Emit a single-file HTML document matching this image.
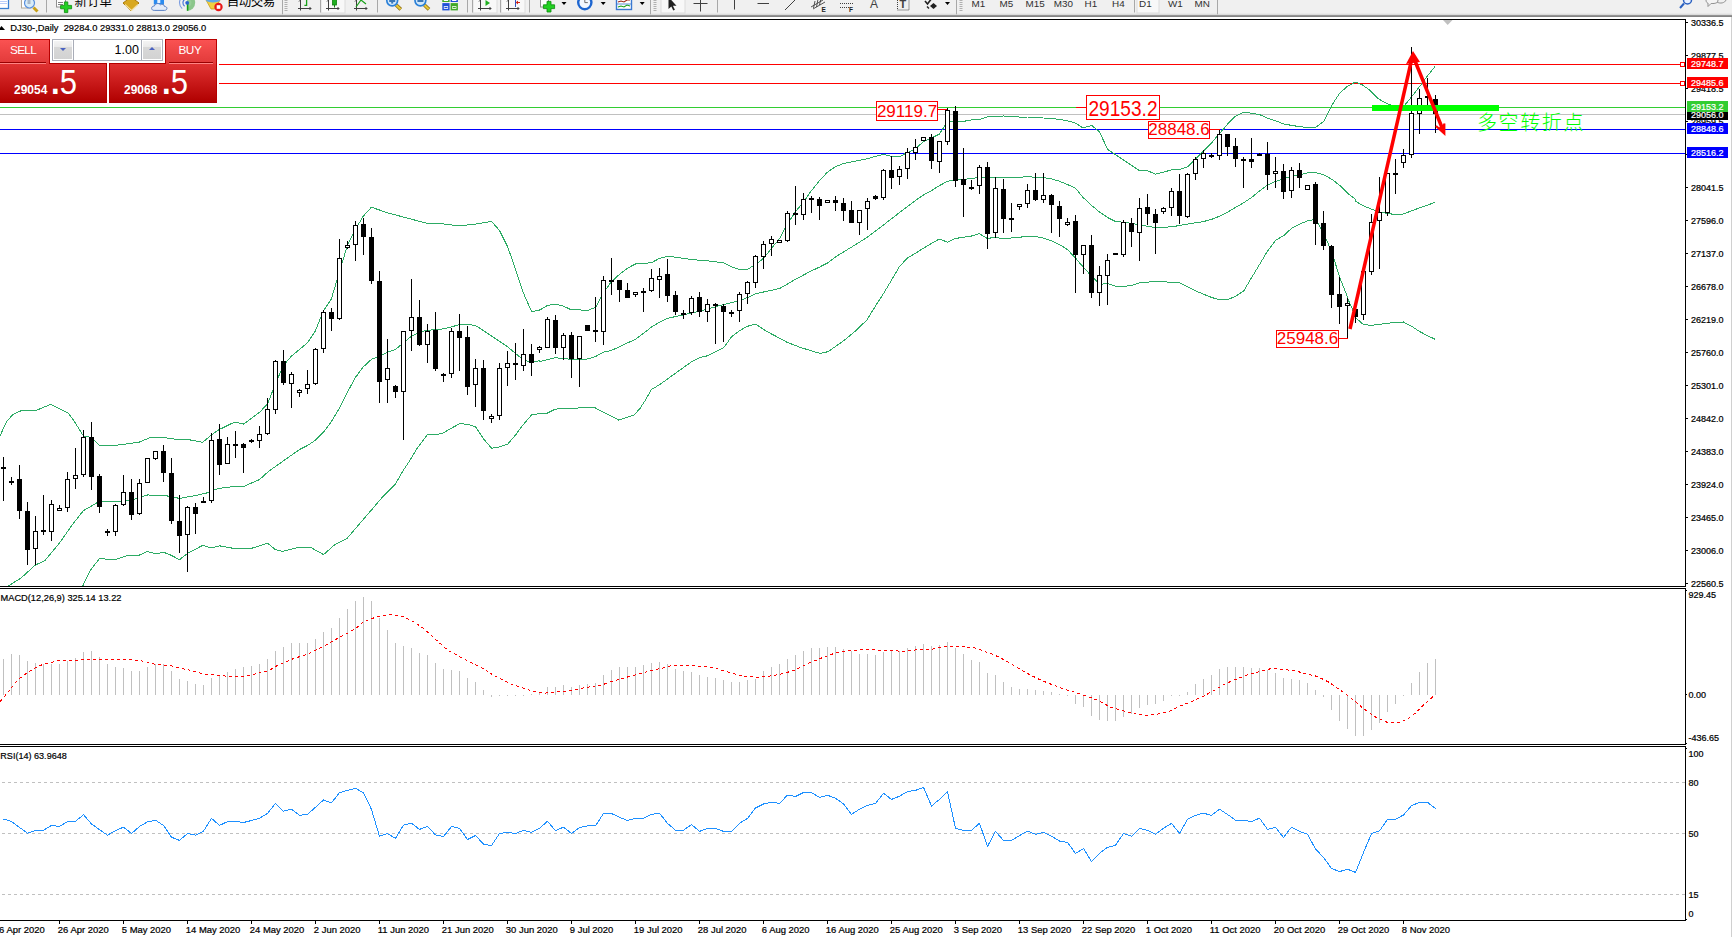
<!DOCTYPE html>
<html><head><meta charset="utf-8"><title>DJ30-,Daily</title>
<style>
html,body{margin:0;padding:0;background:#fff;}
body{width:1732px;height:937px;position:relative;overflow:hidden;font-family:"Liberation Sans","Noto Sans CJK SC",sans-serif;}
#tb{position:absolute;left:0;top:0;width:1732px;height:15px;background:#f0f0f0;}
#chart{position:absolute;left:0;top:0;}
.t{position:absolute;white-space:nowrap;line-height:1;color:#000;}
#trade{position:absolute;left:0;top:39px;width:219px;height:64px;background:#fff;}
</style></head><body>

<svg id="chart" width="1732" height="937" viewBox="0 0 1732 937" font-family="'Liberation Sans','Noto Sans CJK SC',sans-serif">
<g id="toolbar">
<defs><linearGradient id="tbg" x1="0" y1="0" x2="0" y2="1"><stop offset="0" stop-color="#f0f0f0"/><stop offset="0.45" stop-color="#d8d8d8"/><stop offset="0.5" stop-color="#9c9c9c"/><stop offset="1" stop-color="#7c7c7c"/></linearGradient></defs>
<rect x="0" y="0" width="1732" height="14" fill="#f0f0f0"/>
<rect x="0" y="13" width="1732" height="4" fill="url(#tbg)"/>
<rect x="321" y="-2" width="24" height="15" fill="#f8f8f8" stroke="#dcdcdc" stroke-width="1"/>
<rect x="473" y="-2" width="24" height="15" fill="#f8f8f8" stroke="#dcdcdc" stroke-width="1"/>
<rect x="501" y="-2" width="24" height="15" fill="#f8f8f8" stroke="#dcdcdc" stroke-width="1"/>
<rect x="661" y="-2" width="24" height="15" fill="#f8f8f8" stroke="#dcdcdc" stroke-width="1"/>
<rect x="1137" y="-2" width="22" height="15" fill="#f8f8f8" stroke="#dcdcdc" stroke-width="1"/>
<line x1="46.5" y1="0" x2="46.5" y2="12.5" stroke="#a8a8a8" stroke-width="1"/>
<line x1="282.5" y1="0" x2="282.5" y2="14.3" stroke="#a8a8a8" stroke-width="1"/>
<line x1="320.5" y1="0" x2="320.5" y2="12.5" stroke="#a8a8a8" stroke-width="1"/>
<line x1="377.5" y1="0" x2="377.5" y2="12.5" stroke="#a8a8a8" stroke-width="1"/>
<line x1="467.5" y1="0" x2="467.5" y2="12.5" stroke="#a8a8a8" stroke-width="1"/>
<line x1="472.5" y1="0" x2="472.5" y2="12.5" stroke="#a8a8a8" stroke-width="1"/>
<line x1="500.5" y1="0" x2="500.5" y2="12.5" stroke="#a8a8a8" stroke-width="1"/>
<line x1="529.5" y1="0" x2="529.5" y2="12.5" stroke="#a8a8a8" stroke-width="1"/>
<line x1="650.5" y1="0" x2="650.5" y2="14.3" stroke="#a8a8a8" stroke-width="1"/>
<line x1="717.5" y1="0" x2="717.5" y2="12.5" stroke="#a8a8a8" stroke-width="1"/>
<line x1="956.5" y1="0" x2="956.5" y2="14.3" stroke="#a8a8a8" stroke-width="1"/>
<line x1="1134.5" y1="0" x2="1134.5" y2="12.5" stroke="#a8a8a8" stroke-width="1"/>
<line x1="1217.5" y1="0" x2="1217.5" y2="14.3" stroke="#a8a8a8" stroke-width="1"/>
<line x1="286" y1="0" x2="286" y2="12" stroke="#b0b0b0" stroke-width="3" stroke-dasharray="1,1"/>
<line x1="655" y1="0" x2="655" y2="12" stroke="#b0b0b0" stroke-width="3" stroke-dasharray="1,1"/>
<line x1="961" y1="0" x2="961" y2="12" stroke="#b0b0b0" stroke-width="3" stroke-dasharray="1,1"/>
<rect x="-3" y="-3" width="11.5" height="11.5" fill="#fff" stroke="#3a80d2" stroke-width="1.3"/><line x1="0" y1="1.5" x2="7" y2="1.5" stroke="#b8ccf8" stroke-width="1"/><line x1="0" y1="3.5" x2="7" y2="3.5" stroke="#b8ccf8" stroke-width="1"/>
<rect x="21.5" y="-3" width="9" height="11" fill="#fff" stroke="#b0a898" stroke-width="1"/>
<line x1="33.5" y1="7.5" x2="37.5" y2="11.5" stroke="#c8a018" stroke-width="3"/>
<circle cx="29.5" cy="3" r="5" fill="#d8ecf8" stroke="#5a90dc" stroke-width="1.2"/><rect x="27.5" y="-1" width="3" height="5" fill="#a8b8c8"/>
<rect x="56.5" y="-2" width="9" height="9" fill="#fff" stroke="#909090" stroke-width="1"/><line x1="58" y1="2.5" x2="63" y2="2.5" stroke="#808080"/><line x1="58" y1="4.5" x2="63" y2="4.5" stroke="#808080"/>
<path d="M64.4 1.9h3.4v3.5h3.8v3.4h-3.8v3.8h-3.4v-3.8h-3.8v-3.4h3.8z" fill="#22d022" stroke="#0a8a0a" stroke-width="0.8"/>
<text x="74.5" y="5.5" font-size="12.5" fill="#000" font-family="'Noto Sans CJK SC',sans-serif">新订单</text>
<path d="M123 3l8-6 8 6-8 8z" fill="#d8a820" stroke="#a87808" stroke-width="1"/><path d="M125 4.5l6.5 6 6.5-6" fill="none" stroke="#f4e0a0" stroke-width="1.2"/>
<rect x="153.8" y="-3" width="10.2" height="7.5" fill="#2a8cf0"/><rect x="157.3" y="-3" width="3" height="6" fill="#e8f2ff"/>
<path d="M154.2 10.4c-3.6 0-3.4-4.4 0.2-4.4c0.6-2.6 4.2-3.4 6-1.2c1.6-1.2 4-0.4 4 1.6c3.4 0 3.4 4 0 4z" fill="#e4ecf8" stroke="#5a80c4" stroke-width="1"/>
<path d="M187.2 -5.2A8 8 0 0 1 187.2 10.8z" fill="#6ab86a" opacity="0.75"/><path d="M187.2 -1.5A4.3 4.3 0 0 1 187.2 7.1z" fill="#9ad09a" opacity="0.8"/>
<path d="M184.6 6.2a4.3 4.3 0 0 1 0-6.8" fill="none" stroke="#4a7ad8" stroke-width="1.2"/><path d="M182.2 8.6a7.6 7.6 0 0 1 0-11.6" fill="none" stroke="#7a9ce0" stroke-width="1.1"/>
<line x1="187.6" y1="3" x2="187.6" y2="10.8" stroke="#18a018" stroke-width="1.6"/><circle cx="187.2" cy="2.8" r="1.9" fill="#2a64d0"/>
<path d="M206 0h14l-5 9h-4z" fill="#f0d040" stroke="#c8a020" stroke-width="0.8"/><ellipse cx="213" cy="0" rx="7" ry="2.5" fill="#60a8e8"/>
<circle cx="218.5" cy="7" r="4.2" fill="#e81818"/><rect x="216.7" y="5.2" width="3.6" height="3.6" fill="#fff"/>
<text x="226.7" y="5.5" font-size="12.5" fill="#000" letter-spacing="-0.45" font-family="'Noto Sans CJK SC',sans-serif">自动交易</text>
<path d="M300.5 0v10.5M298 8.5h13M309.5 7l1.5 1.5-1.5 1.5M299 1.5l1.5-1.5" fill="none" stroke="#404040" stroke-width="1"/>
<path d="M306.6 -1v7M304.4 5.4h2.4" stroke="#18a018" stroke-width="1.3" fill="none"/>
<path d="M328.5 0v10.5M326 8.5h13M337.5 7l1.5 1.5-1.5 1.5M327 1.5l1.5-1.5" fill="none" stroke="#404040" stroke-width="1"/>
<rect x="332.5" y="-3" width="4" height="8" fill="#20b020" stroke="#108010" stroke-width="0.8"/><line x1="334.5" y1="5" x2="334.5" y2="7.5" stroke="#108010"/>
<path d="M356.5 0v10.5M354 8.5h13M365.5 7l1.5 1.5-1.5 1.5M355 1.5l1.5-1.5" fill="none" stroke="#404040" stroke-width="1"/>
<path d="M356 7l5-7 5 4" stroke="#18a018" stroke-width="1.2" fill="none"/>
<line x1="396.2" y1="5" x2="400.8" y2="9.4" stroke="#8a6a10" stroke-width="3.6"/><line x1="396.2" y1="5" x2="400.59999999999997" y2="9.2" stroke="#e8c838" stroke-width="2.2"/><circle cx="392.2" cy="0.5" r="5.4" fill="#d2e8fa" stroke="#2a80d8" stroke-width="1.7"/><line x1="389.2" y1="1" x2="395.2" y2="1" stroke="#3a78b8" stroke-width="2"/>
<line x1="392.2" y1="-2" x2="392.2" y2="3.6" stroke="#3a78b8" stroke-width="2"/>
<line x1="424.4" y1="5" x2="429.0" y2="9.4" stroke="#8a6a10" stroke-width="3.6"/><line x1="424.4" y1="5" x2="428.79999999999995" y2="9.2" stroke="#e8c838" stroke-width="2.2"/><circle cx="420.4" cy="0.5" r="5.4" fill="#d2e8fa" stroke="#2a80d8" stroke-width="1.7"/><line x1="417.4" y1="1" x2="423.4" y2="1" stroke="#3a78b8" stroke-width="2"/>
<rect x="442.3" y="-4" width="7.3" height="6" fill="#40a828"/><rect x="450.6" y="-4" width="7.3" height="6" fill="#2050d8"/><rect x="442.3" y="3.1" width="7.3" height="7.3" fill="#2050d8"/><rect x="450.6" y="3.1" width="7.3" height="7.3" fill="#40a828"/>
<rect x="443.8" y="6.2" width="4.3" height="2.6" fill="#fff"/><rect x="452.1" y="6.2" width="4.3" height="2.6" fill="#fff"/><rect x="444.4" y="7" width="3.1" height="1" fill="#2050d8"/><rect x="452.7" y="7" width="3.1" height="1" fill="#40a828"/><rect x="443.8" y="-1" width="4.3" height="2" fill="#fff"/><rect x="452.1" y="-1" width="4.3" height="2" fill="#fff"/>
<path d="M480.5 0v10.5M478 8.5h13M489.5 7l1.5 1.5-1.5 1.5M479 1.5l1.5-1.5" fill="none" stroke="#404040" stroke-width="1"/>
<path d="M485.5 0l4.5 3-4.5 3z" fill="#20b020"/>
<path d="M508.5 0v10.5M506 8.5h13M517.5 7l1.5 1.5-1.5 1.5M507 1.5l1.5-1.5" fill="none" stroke="#404040" stroke-width="1"/>
<path d="M515.5 0v7" stroke="#3050c0" stroke-width="1"/><path d="M520 2.5h-3.5M518 1l-1.8 1.5 1.8 1.5" stroke="#d02010" stroke-width="1" fill="none"/>
<rect x="540.5" y="-2" width="8" height="9" fill="#fff" stroke="#909090" stroke-width="1"/>
<path d="M547 1.4h4v3.4h3.6v3.8h-3.6v3.4h-4v-3.4h-3.6v-3.8h3.6z" fill="#22d022" stroke="#0a8a0a" stroke-width="0.8"/>
<path d="M561.5 2h5l-2.5 3z" fill="#000"/>
<path d="M600.7 2h5l-2.5 3z" fill="#000"/>
<path d="M639.7 2h5l-2.5 3z" fill="#000"/>
<path d="M945 2h5l-2.5 3z" fill="#000"/>
<circle cx="584.8" cy="2.6" r="6.6" fill="#f4f8ff" stroke="#1e66d0" stroke-width="2.4"/><path d="M584.8 -2v4.6h3" stroke="#707070" stroke-width="1" fill="none"/>
<rect x="616.5" y="-3" width="15" height="12.5" fill="#fff" stroke="#3a78d0" stroke-width="1.4"/><path d="M618 2l3-1 3 1 3-2 3 0" stroke="#a02818" stroke-width="1.1" fill="none"/><path d="M618 7l3-1 3 1 3-2 3 1" stroke="#18a018" stroke-width="1.1" fill="none"/><line x1="617" y1="4" x2="631" y2="4" stroke="#3a78d0" stroke-width="0.8"/>
<path d="M668.5 -3v12l2.8-2.5 2 4 1.6-0.8-2-4h3.6z" fill="#202020"/>
<path d="M693.5 3.5h14M700.5 0v11.5" stroke="#404040" stroke-width="1" fill="none"/>
<path d="M734.5 0v9.5" stroke="#404040" stroke-width="1"/>
<path d="M757.5 3.5h11.5" stroke="#404040" stroke-width="1"/>
<path d="M785 10L796 -1" stroke="#404040" stroke-width="1"/>
<path d="M811 7l12-7M813 9l12-7M815 1l-1.5 7M818 -1l-1.5 8M821 -2l-1.5 7" stroke="#404040" stroke-width="0.9" fill="none"/>
<text x="821.5" y="12" font-size="6.5" font-weight="bold" fill="#202020">E</text>
<path d="M840 3.5h13M840 7.5h10" stroke="#404040" stroke-width="1" stroke-dasharray="1,1"/>
<text x="849" y="12" font-size="6.5" font-weight="bold" fill="#202020">F</text>
<text x="870" y="7.5" font-size="12" fill="#404040">A</text>
<rect x="897.5" y="-2" width="11.5" height="12" fill="none" stroke="#404040" stroke-width="1" stroke-dasharray="1,1"/><text x="899.5" y="8" font-size="11" font-weight="bold" fill="#404040">T</text>
<path d="M925 1l2.5 3 4.5-6" stroke="#202020" stroke-width="1.6" fill="none"/><path d="M930 6l3.5-3 3.5 3-3.5 3z" fill="#202020"/><path d="M927 6.5l2 2" stroke="#202020" stroke-width="1.4"/>
<text x="971.5" y="6.5" font-size="9.9" fill="#303030">M1</text>
<text x="999.5" y="6.5" font-size="9.9" fill="#303030">M5</text>
<text x="1025.5" y="6.5" font-size="9.9" fill="#303030">M15</text>
<text x="1053.8" y="6.5" font-size="9.9" fill="#303030">M30</text>
<text x="1084.5" y="6.5" font-size="9.9" fill="#303030">H1</text>
<text x="1112" y="6.5" font-size="9.9" fill="#303030">H4</text>
<text x="1139" y="6.5" font-size="9.9" fill="#303030">D1</text>
<text x="1168" y="6.5" font-size="9.9" fill="#303030">W1</text>
<text x="1194.5" y="6.5" font-size="9.9" fill="#303030">MN</text>
<line x1="1680" y1="8" x2="1684" y2="3.5" stroke="#2a60c0" stroke-width="2"/><circle cx="1687.5" cy="0" r="4" fill="#e8f0ff" stroke="#2a60c0" stroke-width="1.5"/>
<path d="M1706 0c0-4 12-4 12 0s-5 3.5-7 3.5l-3 3v-3.5c-1 0-2-1-2-3z" fill="#f4f4f4" stroke="#909090" stroke-width="1"/><path d="M1717 2c3 2 8 1 9-2l2-3" fill="none" stroke="#909090" stroke-width="1"/>
</g>
<g shape-rendering="crispEdges">
<rect x="0" y="19" width="1686" height="1" fill="#000"/>
<rect x="1685" y="19" width="1" height="902" fill="#000"/>
<rect x="0" y="586" width="1686" height="1" fill="#000"/>
<rect x="0" y="588" width="1686" height="1" fill="#000"/>
<rect x="0" y="744" width="1686" height="1" fill="#000"/>
<rect x="0" y="746" width="1686" height="1" fill="#000"/>
<rect x="0" y="920" width="1686" height="1" fill="#000"/>
<rect x="1685" y="587" width="1" height="1" fill="#fff"/><rect x="1685" y="745" width="1" height="1" fill="#fff"/>
<rect x="1686" y="590" width="1" height="1" fill="#000"/><rect x="1686" y="748" width="1" height="1" fill="#000"/><rect x="1686" y="743" width="1" height="1" fill="#000"/><rect x="1686" y="919" width="1" height="1" fill="#000"/>
<rect x="1731" y="17" width="1" height="920" fill="#d0d0d0"/>
<rect x="0" y="64" width="1680" height="1" fill="#ff0000"/>
<rect x="0" y="83" width="1680" height="1" fill="#ff0000"/>
<rect x="0" y="107" width="1685" height="1" fill="#32cd32"/>
<rect x="0" y="114" width="1685" height="1" fill="#c0c0c0"/>
<rect x="0" y="129" width="1685" height="1" fill="#0000ff"/>
<rect x="0" y="153" width="1685" height="1" fill="#0000ff"/>
<line x1="2" y1="782.5" x2="1685" y2="782.5" stroke="#c0c0c0" stroke-width="1" stroke-dasharray="3,3"/>
<line x1="2" y1="833.5" x2="1685" y2="833.5" stroke="#c0c0c0" stroke-width="1" stroke-dasharray="3,3"/>
<line x1="2" y1="894.5" x2="1685" y2="894.5" stroke="#c0c0c0" stroke-width="1" stroke-dasharray="3,3"/>
<rect x="3" y="659" width="1" height="36" fill="#c0c0c0"/>
<rect x="11" y="654" width="1" height="41" fill="#c0c0c0"/>
<rect x="19" y="655" width="1" height="40" fill="#c0c0c0"/>
<rect x="27" y="661" width="1" height="34" fill="#c0c0c0"/>
<rect x="35" y="663" width="1" height="32" fill="#c0c0c0"/>
<rect x="43" y="664" width="1" height="31" fill="#c0c0c0"/>
<rect x="51" y="664" width="1" height="31" fill="#c0c0c0"/>
<rect x="59" y="664" width="1" height="31" fill="#c0c0c0"/>
<rect x="67" y="661" width="1" height="34" fill="#c0c0c0"/>
<rect x="75" y="658" width="1" height="37" fill="#c0c0c0"/>
<rect x="83" y="652" width="1" height="43" fill="#c0c0c0"/>
<rect x="91" y="651" width="1" height="44" fill="#c0c0c0"/>
<rect x="99" y="657" width="1" height="38" fill="#c0c0c0"/>
<rect x="107" y="664" width="1" height="31" fill="#c0c0c0"/>
<rect x="115" y="667" width="1" height="28" fill="#c0c0c0"/>
<rect x="123" y="668" width="1" height="27" fill="#c0c0c0"/>
<rect x="131" y="671" width="1" height="24" fill="#c0c0c0"/>
<rect x="139" y="671" width="1" height="24" fill="#c0c0c0"/>
<rect x="147" y="667" width="1" height="28" fill="#c0c0c0"/>
<rect x="155" y="664" width="1" height="31" fill="#c0c0c0"/>
<rect x="163" y="664" width="1" height="31" fill="#c0c0c0"/>
<rect x="171" y="671" width="1" height="24" fill="#c0c0c0"/>
<rect x="179" y="679" width="1" height="16" fill="#c0c0c0"/>
<rect x="187" y="681" width="1" height="14" fill="#c0c0c0"/>
<rect x="195" y="684" width="1" height="11" fill="#c0c0c0"/>
<rect x="203" y="685" width="1" height="10" fill="#c0c0c0"/>
<rect x="211" y="678" width="1" height="17" fill="#c0c0c0"/>
<rect x="219" y="675" width="1" height="20" fill="#c0c0c0"/>
<rect x="227" y="672" width="1" height="23" fill="#c0c0c0"/>
<rect x="235" y="669" width="1" height="26" fill="#c0c0c0"/>
<rect x="243" y="667" width="1" height="28" fill="#c0c0c0"/>
<rect x="251" y="666" width="1" height="29" fill="#c0c0c0"/>
<rect x="259" y="664" width="1" height="31" fill="#c0c0c0"/>
<rect x="267" y="659" width="1" height="36" fill="#c0c0c0"/>
<rect x="275" y="651" width="1" height="44" fill="#c0c0c0"/>
<rect x="283" y="647" width="1" height="48" fill="#c0c0c0"/>
<rect x="291" y="643" width="1" height="52" fill="#c0c0c0"/>
<rect x="299" y="643" width="1" height="52" fill="#c0c0c0"/>
<rect x="307" y="643" width="1" height="52" fill="#c0c0c0"/>
<rect x="315" y="639" width="1" height="56" fill="#c0c0c0"/>
<rect x="323" y="632" width="1" height="63" fill="#c0c0c0"/>
<rect x="331" y="628" width="1" height="67" fill="#c0c0c0"/>
<rect x="339" y="618" width="1" height="77" fill="#c0c0c0"/>
<rect x="347" y="609" width="1" height="86" fill="#c0c0c0"/>
<rect x="355" y="601" width="1" height="94" fill="#c0c0c0"/>
<rect x="363" y="597" width="1" height="98" fill="#c0c0c0"/>
<rect x="371" y="601" width="1" height="94" fill="#c0c0c0"/>
<rect x="379" y="618" width="1" height="77" fill="#c0c0c0"/>
<rect x="387" y="630" width="1" height="65" fill="#c0c0c0"/>
<rect x="395" y="643" width="1" height="52" fill="#c0c0c0"/>
<rect x="403" y="646" width="1" height="49" fill="#c0c0c0"/>
<rect x="411" y="648" width="1" height="47" fill="#c0c0c0"/>
<rect x="419" y="653" width="1" height="42" fill="#c0c0c0"/>
<rect x="427" y="655" width="1" height="40" fill="#c0c0c0"/>
<rect x="435" y="663" width="1" height="32" fill="#c0c0c0"/>
<rect x="443" y="669" width="1" height="26" fill="#c0c0c0"/>
<rect x="451" y="670" width="1" height="25" fill="#c0c0c0"/>
<rect x="459" y="671" width="1" height="24" fill="#c0c0c0"/>
<rect x="467" y="678" width="1" height="17" fill="#c0c0c0"/>
<rect x="475" y="682" width="1" height="13" fill="#c0c0c0"/>
<rect x="483" y="690" width="1" height="5" fill="#c0c0c0"/>
<rect x="491" y="695" width="1" height="2" fill="#c0c0c0"/>
<rect x="499" y="695" width="1" height="1" fill="#c0c0c0"/>
<rect x="507" y="695" width="1" height="1" fill="#c0c0c0"/>
<rect x="515" y="695" width="1" height="1" fill="#c0c0c0"/>
<rect x="523" y="695" width="1" height="1" fill="#c0c0c0"/>
<rect x="531" y="694" width="1" height="1" fill="#c0c0c0"/>
<rect x="539" y="693" width="1" height="2" fill="#c0c0c0"/>
<rect x="547" y="687" width="1" height="8" fill="#c0c0c0"/>
<rect x="555" y="687" width="1" height="8" fill="#c0c0c0"/>
<rect x="563" y="685" width="1" height="10" fill="#c0c0c0"/>
<rect x="571" y="687" width="1" height="8" fill="#c0c0c0"/>
<rect x="579" y="685" width="1" height="10" fill="#c0c0c0"/>
<rect x="587" y="684" width="1" height="11" fill="#c0c0c0"/>
<rect x="595" y="683" width="1" height="12" fill="#c0c0c0"/>
<rect x="603" y="675" width="1" height="20" fill="#c0c0c0"/>
<rect x="611" y="670" width="1" height="25" fill="#c0c0c0"/>
<rect x="619" y="667" width="1" height="28" fill="#c0c0c0"/>
<rect x="627" y="667" width="1" height="28" fill="#c0c0c0"/>
<rect x="635" y="667" width="1" height="28" fill="#c0c0c0"/>
<rect x="643" y="665" width="1" height="30" fill="#c0c0c0"/>
<rect x="651" y="663" width="1" height="32" fill="#c0c0c0"/>
<rect x="659" y="662" width="1" height="33" fill="#c0c0c0"/>
<rect x="667" y="664" width="1" height="31" fill="#c0c0c0"/>
<rect x="675" y="669" width="1" height="26" fill="#c0c0c0"/>
<rect x="683" y="671" width="1" height="24" fill="#c0c0c0"/>
<rect x="691" y="672" width="1" height="23" fill="#c0c0c0"/>
<rect x="699" y="675" width="1" height="20" fill="#c0c0c0"/>
<rect x="707" y="677" width="1" height="18" fill="#c0c0c0"/>
<rect x="715" y="678" width="1" height="17" fill="#c0c0c0"/>
<rect x="723" y="680" width="1" height="15" fill="#c0c0c0"/>
<rect x="731" y="682" width="1" height="13" fill="#c0c0c0"/>
<rect x="739" y="682" width="1" height="13" fill="#c0c0c0"/>
<rect x="747" y="680" width="1" height="15" fill="#c0c0c0"/>
<rect x="755" y="679" width="1" height="16" fill="#c0c0c0"/>
<rect x="763" y="671" width="1" height="24" fill="#c0c0c0"/>
<rect x="771" y="667" width="1" height="28" fill="#c0c0c0"/>
<rect x="779" y="664" width="1" height="31" fill="#c0c0c0"/>
<rect x="787" y="659" width="1" height="36" fill="#c0c0c0"/>
<rect x="795" y="655" width="1" height="40" fill="#c0c0c0"/>
<rect x="803" y="651" width="1" height="44" fill="#c0c0c0"/>
<rect x="811" y="648" width="1" height="47" fill="#c0c0c0"/>
<rect x="819" y="648" width="1" height="47" fill="#c0c0c0"/>
<rect x="827" y="647" width="1" height="48" fill="#c0c0c0"/>
<rect x="835" y="647" width="1" height="48" fill="#c0c0c0"/>
<rect x="843" y="649" width="1" height="46" fill="#c0c0c0"/>
<rect x="851" y="651" width="1" height="44" fill="#c0c0c0"/>
<rect x="859" y="654" width="1" height="41" fill="#c0c0c0"/>
<rect x="867" y="654" width="1" height="41" fill="#c0c0c0"/>
<rect x="875" y="655" width="1" height="40" fill="#c0c0c0"/>
<rect x="883" y="652" width="1" height="43" fill="#c0c0c0"/>
<rect x="891" y="651" width="1" height="44" fill="#c0c0c0"/>
<rect x="899" y="651" width="1" height="44" fill="#c0c0c0"/>
<rect x="907" y="648" width="1" height="47" fill="#c0c0c0"/>
<rect x="915" y="646" width="1" height="49" fill="#c0c0c0"/>
<rect x="923" y="644" width="1" height="51" fill="#c0c0c0"/>
<rect x="931" y="646" width="1" height="49" fill="#c0c0c0"/>
<rect x="939" y="645" width="1" height="50" fill="#c0c0c0"/>
<rect x="947" y="642" width="1" height="53" fill="#c0c0c0"/>
<rect x="955" y="648" width="1" height="47" fill="#c0c0c0"/>
<rect x="963" y="654" width="1" height="41" fill="#c0c0c0"/>
<rect x="971" y="660" width="1" height="35" fill="#c0c0c0"/>
<rect x="979" y="662" width="1" height="33" fill="#c0c0c0"/>
<rect x="987" y="673" width="1" height="22" fill="#c0c0c0"/>
<rect x="995" y="675" width="1" height="20" fill="#c0c0c0"/>
<rect x="1003" y="682" width="1" height="13" fill="#c0c0c0"/>
<rect x="1011" y="687" width="1" height="8" fill="#c0c0c0"/>
<rect x="1019" y="689" width="1" height="6" fill="#c0c0c0"/>
<rect x="1027" y="689" width="1" height="6" fill="#c0c0c0"/>
<rect x="1035" y="690" width="1" height="5" fill="#c0c0c0"/>
<rect x="1043" y="691" width="1" height="4" fill="#c0c0c0"/>
<rect x="1051" y="692" width="1" height="3" fill="#c0c0c0"/>
<rect x="1059" y="694" width="1" height="1" fill="#c0c0c0"/>
<rect x="1067" y="695" width="1" height="1" fill="#c0c0c0"/>
<rect x="1075" y="695" width="1" height="9" fill="#c0c0c0"/>
<rect x="1083" y="695" width="1" height="12" fill="#c0c0c0"/>
<rect x="1091" y="695" width="1" height="21" fill="#c0c0c0"/>
<rect x="1099" y="695" width="1" height="25" fill="#c0c0c0"/>
<rect x="1107" y="695" width="1" height="26" fill="#c0c0c0"/>
<rect x="1115" y="695" width="1" height="26" fill="#c0c0c0"/>
<rect x="1123" y="695" width="1" height="22" fill="#c0c0c0"/>
<rect x="1131" y="695" width="1" height="19" fill="#c0c0c0"/>
<rect x="1139" y="695" width="1" height="13" fill="#c0c0c0"/>
<rect x="1147" y="695" width="1" height="10" fill="#c0c0c0"/>
<rect x="1155" y="695" width="1" height="9" fill="#c0c0c0"/>
<rect x="1163" y="695" width="1" height="6" fill="#c0c0c0"/>
<rect x="1171" y="695" width="1" height="1" fill="#c0c0c0"/>
<rect x="1179" y="695" width="1" height="1" fill="#c0c0c0"/>
<rect x="1187" y="692" width="1" height="3" fill="#c0c0c0"/>
<rect x="1195" y="684" width="1" height="11" fill="#c0c0c0"/>
<rect x="1203" y="679" width="1" height="16" fill="#c0c0c0"/>
<rect x="1211" y="675" width="1" height="20" fill="#c0c0c0"/>
<rect x="1219" y="669" width="1" height="26" fill="#c0c0c0"/>
<rect x="1227" y="667" width="1" height="28" fill="#c0c0c0"/>
<rect x="1235" y="667" width="1" height="28" fill="#c0c0c0"/>
<rect x="1243" y="667" width="1" height="28" fill="#c0c0c0"/>
<rect x="1251" y="668" width="1" height="27" fill="#c0c0c0"/>
<rect x="1259" y="668" width="1" height="27" fill="#c0c0c0"/>
<rect x="1267" y="670" width="1" height="25" fill="#c0c0c0"/>
<rect x="1275" y="673" width="1" height="22" fill="#c0c0c0"/>
<rect x="1283" y="678" width="1" height="17" fill="#c0c0c0"/>
<rect x="1291" y="679" width="1" height="16" fill="#c0c0c0"/>
<rect x="1299" y="680" width="1" height="15" fill="#c0c0c0"/>
<rect x="1307" y="683" width="1" height="12" fill="#c0c0c0"/>
<rect x="1315" y="690" width="1" height="5" fill="#c0c0c0"/>
<rect x="1323" y="695" width="1" height="2" fill="#c0c0c0"/>
<rect x="1331" y="695" width="1" height="15" fill="#c0c0c0"/>
<rect x="1339" y="695" width="1" height="26" fill="#c0c0c0"/>
<rect x="1347" y="695" width="1" height="34" fill="#c0c0c0"/>
<rect x="1355" y="695" width="1" height="41" fill="#c0c0c0"/>
<rect x="1363" y="695" width="1" height="41" fill="#c0c0c0"/>
<rect x="1371" y="695" width="1" height="35" fill="#c0c0c0"/>
<rect x="1379" y="695" width="1" height="28" fill="#c0c0c0"/>
<rect x="1387" y="695" width="1" height="17" fill="#c0c0c0"/>
<rect x="1395" y="695" width="1" height="9" fill="#c0c0c0"/>
<rect x="1403" y="695" width="1" height="1" fill="#c0c0c0"/>
<rect x="1411" y="683" width="1" height="12" fill="#c0c0c0"/>
<rect x="1419" y="672" width="1" height="23" fill="#c0c0c0"/>
<rect x="1427" y="663" width="1" height="32" fill="#c0c0c0"/>
<rect x="1435" y="659" width="1" height="36" fill="#c0c0c0"/>
</g>
<g clip-path="url(#mainclip)" shape-rendering="crispEdges"><defs><clipPath id="mainclip"><rect x="0" y="20" width="1685" height="566"/></clipPath></defs>
<polyline points="0.0,435.9 6.4,422.0 12.8,414.5 21.3,410.7 36.3,410.3 50.8,404.3 68.3,413.0 74.7,422.0 83.4,435.9 91.5,437.4 99.4,445.5 117.4,445.1 138.7,442.3 149.4,438.0 162.2,437.4 175.0,439.1 187.8,439.5 202.7,442.3 211.5,434.8 219.4,429.5 234.7,422.0 243.5,424.1 259.5,412.4 267.6,403.9 275.3,384.2 283.3,365.5 291.4,356.2 307.4,342.8 315.4,330.8 323.4,310.8 331.4,298.8 339.4,272.1 347.4,245.4 355.4,229.4 363.4,216.0 371.4,207.2 387.5,212.8 411.5,219.2 427.5,223.5 443.5,224.0 459.5,225.9 475.6,224.0 491.6,221.4 499.6,230.7 507.6,246.7 515.6,269.4 523.6,293.4 531.6,311.6 539.6,310.0 540.0,309.9 547.4,305.5 555.5,304.2 563.6,306.2 571.4,309.9 579.5,309.9 587.6,310.4 595.5,307.4 603.6,292.7 611.4,281.7 619.5,274.3 627.4,268.2 635.5,264.0 643.6,263.3 651.4,262.8 659.5,258.3 667.4,256.4 675.5,257.1 691.4,259.6 707.4,260.8 723.6,262.8 731.4,266.9 739.5,269.4 747.4,269.4 755.5,264.5 763.6,258.3 771.4,248.5 779.5,238.7 787.4,224.0 795.5,211.7 803.6,201.9 810.0,192.6 819.3,180.8 827.4,172.2 835.5,166.6 843.4,163.6 851.5,161.9 859.6,160.4 867.4,158.7 875.5,156.3 883.4,154.3 891.5,156.3 899.3,156.7 907.4,152.6 915.5,148.9 923.4,141.5 931.5,137.9 939.3,134.2 947.4,121.9 955.5,121.4 963.4,121.4 971.5,119.9 979.3,119.4 987.4,117.0 995.5,116.3 1003.4,116.0 1011.5,116.5 1019.3,117.0 1027.4,117.0 1035.5,117.5 1043.4,118.0 1051.5,118.5 1059.6,119.4 1067.4,120.7 1075.5,123.1 1083.0,128.0 1091.6,125.4 1099.6,132.0 1107.6,149.4 1115.6,154.7 1123.6,160.1 1131.6,165.4 1139.6,170.7 1147.6,170.7 1155.6,174.2 1163.6,172.1 1171.6,169.9 1179.6,169.4 1187.7,166.7 1195.7,158.7 1203.7,150.7 1211.7,142.7 1219.7,133.4 1227.7,124.0 1235.7,116.0 1243.7,112.0 1251.7,113.3 1259.7,114.7 1267.7,118.2 1275.7,120.8 1283.8,124.0 1291.8,125.4 1299.8,126.7 1307.8,127.5 1315.8,127.2 1323.8,121.4 1331.8,105.3 1340.0,92.7 1348.1,85.8 1355.4,82.1 1362.6,85.0 1369.1,89.8 1377.2,97.9 1383.6,101.9 1388.5,104.4 1395.0,106.0 1404.7,105.2 1412.7,95.5 1420.8,85.0 1427.3,76.1 1435.1,66.4" fill="none" stroke="#2cab64" stroke-width="1" />
<polyline points="8.5,585.9 21.3,577.8 35.4,565.0 44.8,560.7 59.8,542.6 72.6,524.4 83.4,510.6 99.4,501.4 117.4,502.0 132.3,499.9 147.5,495.0 163.5,495.2 179.5,498.4 195.5,495.6 207.0,492.9 215.5,489.2 227.5,487.1 243.5,486.5 259.5,479.6 268.9,471.1 299.4,449.6 307.4,445.6 315.4,440.3 323.4,432.2 331.4,421.6 339.4,408.2 347.4,392.2 355.4,377.5 363.4,366.8 371.4,359.4 379.5,356.2 387.5,352.2 395.5,349.5 403.5,342.8 411.5,336.1 419.5,332.1 427.5,330.3 443.5,328.9 459.5,324.7 467.5,324.4 475.6,325.5 483.6,330.8 491.6,336.1 499.6,341.5 507.6,346.8 515.6,353.5 523.6,360.2 531.6,362.3 539.6,360.7 540.0,361.4 555.5,357.7 571.4,359.4 587.6,359.0 595.5,356.5 603.6,352.1 611.4,350.4 619.5,346.7 627.4,343.0 635.5,339.3 643.6,333.2 651.4,327.1 659.5,322.1 667.4,318.5 675.5,316.5 691.4,313.1 707.4,309.1 723.6,304.5 739.5,300.8 747.4,297.6 755.5,293.9 763.6,292.0 779.5,288.5 787.4,284.1 795.5,279.2 803.6,275.0 810.0,271.6 819.3,267.2 827.4,263.0 835.5,256.9 843.4,252.0 851.5,247.1 859.6,242.1 867.4,237.2 875.5,231.1 883.4,225.0 891.5,218.8 899.3,212.7 907.4,206.6 915.5,200.4 923.4,195.0 931.5,190.6 939.3,185.7 947.4,181.3 955.5,180.1 963.4,179.6 971.5,178.3 979.3,177.6 987.4,177.1 995.5,177.1 1003.4,177.6 1011.5,177.1 1019.3,177.1 1027.4,176.9 1035.5,177.1 1043.4,177.6 1051.5,178.8 1059.6,181.3 1067.4,184.5 1075.5,188.2 1083.0,197.4 1091.6,205.4 1099.6,212.1 1107.6,217.5 1115.6,221.5 1123.6,222.3 1131.6,223.3 1139.6,224.9 1147.6,226.3 1155.6,227.6 1163.6,227.3 1171.6,226.8 1179.6,225.5 1187.7,224.1 1195.7,222.8 1203.7,221.5 1211.7,219.3 1219.7,216.1 1227.7,212.1 1235.7,207.3 1243.7,202.8 1251.7,197.4 1259.7,190.8 1267.7,184.9 1275.7,181.4 1283.8,178.8 1291.8,176.1 1299.8,174.7 1307.8,172.9 1315.8,172.6 1323.8,174.7 1331.8,179.3 1339.8,185.4 1347.8,193.4 1355.0,198.8 1355.4,201.2 1363.5,205.9 1371.4,209.1 1379.5,211.9 1387.4,213.6 1395.5,214.4 1403.4,214.0 1411.5,210.8 1419.4,208.0 1427.6,205.1 1435.2,202.3" fill="none" stroke="#2cab64" stroke-width="1" />
<polyline points="82.8,585.9 89.6,571.4 99.4,558.6 115.2,559.7 128.0,555.4 138.7,555.4 147.5,551.5 155.6,553.9 163.5,552.2 171.4,555.4 179.5,559.7 187.6,553.3 202.7,545.4 211.5,547.9 219.4,545.8 234.7,548.6 251.6,548.3 267.6,543.2 275.3,549.6 282.3,551.4 298.5,547.4 310.6,547.4 323.6,554.6 334.9,544.5 347.0,538.5 359.1,524.3 371.3,510.2 383.4,496.0 395.5,483.9 403.6,469.8 411.7,457.6 416.3,449.6 427.5,434.4 435.5,434.9 443.5,432.8 451.5,428.2 459.5,423.7 467.5,424.2 475.6,426.9 483.6,438.9 491.6,448.3 499.6,446.9 507.6,444.3 515.6,434.9 523.6,424.2 531.6,414.9 539.6,413.6 547.1,413.2 555.2,409.1 573.4,408.3 593.6,407.1 605.7,413.2 618.6,420.0 634.0,415.2 640.1,408.3 645.5,399.9 651.4,389.6 659.5,384.7 667.4,379.1 675.5,373.2 683.6,367.5 691.4,361.9 699.5,357.7 707.4,355.8 715.5,351.6 723.6,347.9 731.4,336.9 739.5,330.7 747.4,326.3 755.5,324.1 763.6,329.5 771.4,333.9 779.5,338.1 787.4,342.5 795.5,345.5 803.6,348.7 803.8,348.5 819.9,353.4 828.0,351.7 844.2,340.4 856.3,330.3 866.9,319.9 875.5,306.0 883.4,293.7 891.5,280.2 899.3,266.7 907.4,258.1 915.5,253.2 923.4,248.3 931.5,243.4 939.3,239.0 947.4,242.1 955.5,238.5 963.4,237.2 971.5,236.0 979.3,233.6 987.4,238.5 995.5,237.2 1003.4,239.0 1011.5,238.0 1019.3,237.2 1027.4,236.5 1035.5,236.5 1043.4,238.0 1051.5,240.9 1059.6,244.6 1067.4,249.5 1075.5,258.1 1083.0,266.8 1091.6,276.2 1099.6,284.2 1107.6,283.7 1115.6,286.1 1123.6,286.3 1131.6,285.5 1139.6,282.9 1147.6,282.1 1155.6,281.5 1163.6,281.8 1171.6,282.3 1179.6,282.9 1187.7,286.9 1195.7,290.9 1203.7,294.3 1211.7,297.5 1219.7,299.7 1227.7,299.7 1235.7,296.2 1243.7,290.9 1251.7,277.5 1259.7,264.2 1267.7,250.8 1275.7,240.1 1283.8,235.6 1291.8,228.1 1299.8,224.1 1307.8,220.7 1315.8,219.3 1323.8,233.5 1331.8,252.2 1339.8,277.5 1347.5,297.2 1347.8,298.9 1352.0,307.9 1355.4,317.5 1363.5,324.6 1371.4,325.4 1379.5,324.3 1387.4,323.3 1395.5,322.4 1403.4,322.0 1411.5,326.1 1419.4,331.4 1427.6,335.7 1435.2,339.3" fill="none" stroke="#2cab64" stroke-width="1" />
</g>
<g shape-rendering="crispEdges">
<rect x="3" y="457" width="1" height="44" fill="#000"/>
<rect x="1" y="467" width="5" height="2" fill="#000"/>
<rect x="11" y="477" width="1" height="8" fill="#000"/>
<rect x="9" y="481" width="5" height="2" fill="#000"/>
<rect x="19" y="465" width="1" height="54" fill="#000"/>
<rect x="17" y="479" width="5" height="32" fill="#000"/>
<rect x="27" y="502" width="1" height="63" fill="#000"/>
<rect x="25" y="511" width="5" height="39" fill="#000"/>
<rect x="35" y="516" width="1" height="49" fill="#000"/>
<rect x="33" y="531" width="5" height="18" fill="#000"/><rect x="34" y="532" width="3" height="16" fill="#fff"/>
<rect x="43" y="495" width="1" height="40" fill="#000"/>
<rect x="41" y="530" width="5" height="2" fill="#000"/>
<rect x="51" y="500" width="1" height="41" fill="#000"/>
<rect x="49" y="504" width="5" height="28" fill="#000"/><rect x="50" y="505" width="3" height="26" fill="#fff"/>
<rect x="59" y="505" width="1" height="5" fill="#000"/>
<rect x="57" y="508" width="5" height="3" fill="#000"/><rect x="58" y="509" width="3" height="1" fill="#fff"/>
<rect x="67" y="472" width="1" height="40" fill="#000"/>
<rect x="65" y="479" width="5" height="29" fill="#000"/><rect x="66" y="480" width="3" height="27" fill="#fff"/>
<rect x="75" y="448" width="1" height="41" fill="#000"/>
<rect x="73" y="475" width="5" height="4" fill="#000"/><rect x="74" y="476" width="3" height="2" fill="#fff"/>
<rect x="83" y="430" width="1" height="47" fill="#000"/>
<rect x="81" y="437" width="5" height="38" fill="#000"/><rect x="82" y="438" width="3" height="36" fill="#fff"/>
<rect x="91" y="422" width="1" height="68" fill="#000"/>
<rect x="89" y="437" width="5" height="40" fill="#000"/>
<rect x="99" y="474" width="1" height="39" fill="#000"/>
<rect x="97" y="476" width="5" height="31" fill="#000"/>
<rect x="107" y="529" width="1" height="7" fill="#000"/>
<rect x="105" y="531" width="5" height="2" fill="#000"/>
<rect x="115" y="504" width="1" height="32" fill="#000"/>
<rect x="113" y="505" width="5" height="27" fill="#000"/><rect x="114" y="506" width="3" height="25" fill="#fff"/>
<rect x="123" y="475" width="1" height="31" fill="#000"/>
<rect x="121" y="492" width="5" height="13" fill="#000"/><rect x="122" y="493" width="3" height="11" fill="#fff"/>
<rect x="131" y="479" width="1" height="41" fill="#000"/>
<rect x="129" y="492" width="5" height="23" fill="#000"/>
<rect x="139" y="479" width="1" height="36" fill="#000"/>
<rect x="137" y="483" width="5" height="31" fill="#000"/><rect x="138" y="484" width="3" height="29" fill="#fff"/>
<rect x="147" y="458" width="1" height="25" fill="#000"/>
<rect x="145" y="458" width="5" height="25" fill="#000"/><rect x="146" y="459" width="3" height="23" fill="#fff"/>
<rect x="155" y="451" width="1" height="9" fill="#000"/>
<rect x="153" y="451" width="5" height="8" fill="#000"/><rect x="154" y="452" width="3" height="6" fill="#fff"/>
<rect x="163" y="445" width="1" height="37" fill="#000"/>
<rect x="161" y="451" width="5" height="22" fill="#000"/>
<rect x="171" y="458" width="1" height="66" fill="#000"/>
<rect x="169" y="473" width="5" height="48" fill="#000"/>
<rect x="179" y="495" width="1" height="58" fill="#000"/>
<rect x="177" y="521" width="5" height="15" fill="#000"/>
<rect x="187" y="506" width="1" height="66" fill="#000"/>
<rect x="185" y="507" width="5" height="28" fill="#000"/><rect x="186" y="508" width="3" height="26" fill="#fff"/>
<rect x="195" y="503" width="1" height="31" fill="#000"/>
<rect x="193" y="507" width="5" height="7" fill="#000"/>
<rect x="203" y="497" width="1" height="4" fill="#000"/>
<rect x="201" y="501" width="5" height="2" fill="#000"/>
<rect x="211" y="433" width="1" height="70" fill="#000"/>
<rect x="209" y="440" width="5" height="61" fill="#000"/><rect x="210" y="441" width="3" height="59" fill="#fff"/>
<rect x="219" y="424" width="1" height="51" fill="#000"/>
<rect x="217" y="439" width="5" height="26" fill="#000"/>
<rect x="227" y="437" width="1" height="27" fill="#000"/>
<rect x="225" y="444" width="5" height="20" fill="#000"/><rect x="226" y="445" width="3" height="18" fill="#fff"/>
<rect x="235" y="431" width="1" height="27" fill="#000"/>
<rect x="233" y="444" width="5" height="2" fill="#000"/>
<rect x="243" y="443" width="1" height="30" fill="#000"/>
<rect x="241" y="444" width="5" height="4" fill="#000"/>
<rect x="251" y="439" width="1" height="4" fill="#000"/>
<rect x="249" y="440" width="5" height="2" fill="#000"/>
<rect x="259" y="426" width="1" height="22" fill="#000"/>
<rect x="257" y="434" width="5" height="7" fill="#000"/><rect x="258" y="435" width="3" height="5" fill="#fff"/>
<rect x="267" y="398" width="1" height="37" fill="#000"/>
<rect x="265" y="409" width="5" height="25" fill="#000"/><rect x="266" y="410" width="3" height="23" fill="#fff"/>
<rect x="275" y="360" width="1" height="54" fill="#000"/>
<rect x="273" y="361" width="5" height="49" fill="#000"/><rect x="274" y="362" width="3" height="47" fill="#fff"/>
<rect x="283" y="350" width="1" height="35" fill="#000"/>
<rect x="281" y="361" width="5" height="22" fill="#000"/>
<rect x="291" y="372" width="1" height="36" fill="#000"/>
<rect x="289" y="374" width="5" height="10" fill="#000"/><rect x="290" y="375" width="3" height="8" fill="#fff"/>
<rect x="299" y="389" width="1" height="8" fill="#000"/>
<rect x="297" y="390" width="5" height="3" fill="#000"/><rect x="298" y="391" width="3" height="1" fill="#fff"/>
<rect x="307" y="370" width="1" height="24" fill="#000"/>
<rect x="305" y="384" width="5" height="5" fill="#000"/><rect x="306" y="385" width="3" height="3" fill="#fff"/>
<rect x="315" y="348" width="1" height="37" fill="#000"/>
<rect x="313" y="349" width="5" height="35" fill="#000"/><rect x="314" y="350" width="3" height="33" fill="#fff"/>
<rect x="323" y="310" width="1" height="43" fill="#000"/>
<rect x="321" y="312" width="5" height="37" fill="#000"/><rect x="322" y="313" width="3" height="35" fill="#fff"/>
<rect x="331" y="308" width="1" height="23" fill="#000"/>
<rect x="329" y="312" width="5" height="7" fill="#000"/>
<rect x="339" y="239" width="1" height="81" fill="#000"/>
<rect x="337" y="258" width="5" height="61" fill="#000"/><rect x="338" y="259" width="3" height="59" fill="#fff"/>
<rect x="347" y="241" width="1" height="8" fill="#000"/>
<rect x="345" y="245" width="5" height="3" fill="#000"/><rect x="346" y="246" width="3" height="1" fill="#fff"/>
<rect x="355" y="221" width="1" height="40" fill="#000"/>
<rect x="353" y="225" width="5" height="20" fill="#000"/><rect x="354" y="226" width="3" height="18" fill="#fff"/>
<rect x="363" y="218" width="1" height="37" fill="#000"/>
<rect x="361" y="224" width="5" height="13" fill="#000"/>
<rect x="371" y="228" width="1" height="56" fill="#000"/>
<rect x="369" y="237" width="5" height="44" fill="#000"/>
<rect x="379" y="271" width="1" height="132" fill="#000"/>
<rect x="377" y="281" width="5" height="101" fill="#000"/>
<rect x="387" y="339" width="1" height="64" fill="#000"/>
<rect x="385" y="368" width="5" height="12" fill="#000"/><rect x="386" y="369" width="3" height="10" fill="#fff"/>
<rect x="395" y="385" width="1" height="13" fill="#000"/>
<rect x="393" y="386" width="5" height="6" fill="#000"/>
<rect x="403" y="331" width="1" height="109" fill="#000"/>
<rect x="401" y="331" width="5" height="61" fill="#000"/><rect x="402" y="332" width="3" height="59" fill="#fff"/>
<rect x="411" y="279" width="1" height="72" fill="#000"/>
<rect x="409" y="317" width="5" height="14" fill="#000"/><rect x="410" y="318" width="3" height="12" fill="#fff"/>
<rect x="419" y="300" width="1" height="46" fill="#000"/>
<rect x="417" y="317" width="5" height="28" fill="#000"/>
<rect x="427" y="324" width="1" height="39" fill="#000"/>
<rect x="425" y="331" width="5" height="14" fill="#000"/><rect x="426" y="332" width="3" height="12" fill="#fff"/>
<rect x="435" y="312" width="1" height="59" fill="#000"/>
<rect x="433" y="330" width="5" height="39" fill="#000"/>
<rect x="443" y="373" width="1" height="9" fill="#000"/>
<rect x="441" y="374" width="5" height="2" fill="#000"/>
<rect x="451" y="328" width="1" height="50" fill="#000"/>
<rect x="449" y="331" width="5" height="43" fill="#000"/><rect x="450" y="332" width="3" height="41" fill="#fff"/>
<rect x="459" y="314" width="1" height="57" fill="#000"/>
<rect x="457" y="331" width="5" height="7" fill="#000"/>
<rect x="467" y="326" width="1" height="69" fill="#000"/>
<rect x="465" y="337" width="5" height="50" fill="#000"/>
<rect x="475" y="359" width="1" height="48" fill="#000"/>
<rect x="473" y="368" width="5" height="17" fill="#000"/><rect x="474" y="369" width="3" height="15" fill="#fff"/>
<rect x="483" y="360" width="1" height="60" fill="#000"/>
<rect x="481" y="368" width="5" height="43" fill="#000"/>
<rect x="491" y="414" width="1" height="9" fill="#000"/>
<rect x="489" y="416" width="5" height="3" fill="#000"/><rect x="490" y="417" width="3" height="1" fill="#fff"/>
<rect x="499" y="363" width="1" height="57" fill="#000"/>
<rect x="497" y="368" width="5" height="48" fill="#000"/><rect x="498" y="369" width="3" height="46" fill="#fff"/>
<rect x="507" y="351" width="1" height="35" fill="#000"/>
<rect x="505" y="363" width="5" height="5" fill="#000"/><rect x="506" y="364" width="3" height="3" fill="#fff"/>
<rect x="515" y="343" width="1" height="37" fill="#000"/>
<rect x="513" y="363" width="5" height="2" fill="#000"/>
<rect x="523" y="329" width="1" height="42" fill="#000"/>
<rect x="521" y="354" width="5" height="12" fill="#000"/><rect x="522" y="355" width="3" height="10" fill="#fff"/>
<rect x="531" y="344" width="1" height="32" fill="#000"/>
<rect x="529" y="354" width="5" height="9" fill="#000"/>
<rect x="539" y="346" width="1" height="7" fill="#000"/>
<rect x="537" y="347" width="5" height="3" fill="#000"/><rect x="538" y="348" width="3" height="1" fill="#fff"/>
<rect x="547" y="317" width="1" height="31" fill="#000"/>
<rect x="545" y="319" width="5" height="29" fill="#000"/><rect x="546" y="320" width="3" height="27" fill="#fff"/>
<rect x="555" y="315" width="1" height="39" fill="#000"/>
<rect x="553" y="320" width="5" height="28" fill="#000"/>
<rect x="563" y="333" width="1" height="27" fill="#000"/>
<rect x="561" y="335" width="5" height="13" fill="#000"/><rect x="562" y="336" width="3" height="11" fill="#fff"/>
<rect x="571" y="332" width="1" height="46" fill="#000"/>
<rect x="569" y="335" width="5" height="24" fill="#000"/>
<rect x="579" y="336" width="1" height="51" fill="#000"/>
<rect x="577" y="336" width="5" height="23" fill="#000"/><rect x="578" y="337" width="3" height="21" fill="#fff"/>
<rect x="587" y="325" width="1" height="6" fill="#000"/>
<rect x="585" y="325" width="5" height="6" fill="#000"/>
<rect x="595" y="297" width="1" height="45" fill="#000"/>
<rect x="593" y="330" width="5" height="2" fill="#000"/>
<rect x="603" y="276" width="1" height="69" fill="#000"/>
<rect x="601" y="280" width="5" height="52" fill="#000"/><rect x="602" y="281" width="3" height="50" fill="#fff"/>
<rect x="611" y="258" width="1" height="37" fill="#000"/>
<rect x="609" y="280" width="5" height="2" fill="#000"/>
<rect x="619" y="280" width="1" height="22" fill="#000"/>
<rect x="617" y="280" width="5" height="10" fill="#000"/>
<rect x="627" y="283" width="1" height="15" fill="#000"/>
<rect x="625" y="290" width="5" height="8" fill="#000"/>
<rect x="635" y="292" width="1" height="5" fill="#000"/>
<rect x="633" y="292" width="5" height="3" fill="#000"/><rect x="634" y="293" width="3" height="1" fill="#fff"/>
<rect x="643" y="288" width="1" height="24" fill="#000"/>
<rect x="641" y="291" width="5" height="2" fill="#000"/>
<rect x="651" y="269" width="1" height="23" fill="#000"/>
<rect x="649" y="278" width="5" height="13" fill="#000"/><rect x="650" y="279" width="3" height="11" fill="#fff"/>
<rect x="659" y="268" width="1" height="30" fill="#000"/>
<rect x="657" y="276" width="5" height="4" fill="#000"/><rect x="658" y="277" width="3" height="2" fill="#fff"/>
<rect x="667" y="259" width="1" height="43" fill="#000"/>
<rect x="665" y="274" width="5" height="22" fill="#000"/>
<rect x="675" y="291" width="1" height="24" fill="#000"/>
<rect x="673" y="295" width="5" height="17" fill="#000"/>
<rect x="683" y="310" width="1" height="9" fill="#000"/>
<rect x="681" y="313" width="5" height="2" fill="#000"/>
<rect x="691" y="296" width="1" height="19" fill="#000"/>
<rect x="689" y="298" width="5" height="15" fill="#000"/><rect x="690" y="299" width="3" height="13" fill="#fff"/>
<rect x="699" y="292" width="1" height="25" fill="#000"/>
<rect x="697" y="297" width="5" height="15" fill="#000"/>
<rect x="707" y="299" width="1" height="23" fill="#000"/>
<rect x="705" y="304" width="5" height="8" fill="#000"/><rect x="706" y="305" width="3" height="6" fill="#fff"/>
<rect x="715" y="303" width="1" height="41" fill="#000"/>
<rect x="713" y="304" width="5" height="2" fill="#000"/>
<rect x="723" y="304" width="1" height="38" fill="#000"/>
<rect x="721" y="306" width="5" height="6" fill="#000"/>
<rect x="731" y="310" width="1" height="7" fill="#000"/>
<rect x="729" y="312" width="5" height="2" fill="#000"/>
<rect x="739" y="292" width="1" height="30" fill="#000"/>
<rect x="737" y="294" width="5" height="17" fill="#000"/><rect x="738" y="295" width="3" height="15" fill="#fff"/>
<rect x="747" y="281" width="1" height="23" fill="#000"/>
<rect x="745" y="282" width="5" height="12" fill="#000"/><rect x="746" y="283" width="3" height="10" fill="#fff"/>
<rect x="755" y="255" width="1" height="33" fill="#000"/>
<rect x="753" y="256" width="5" height="27" fill="#000"/><rect x="754" y="257" width="3" height="25" fill="#fff"/>
<rect x="763" y="241" width="1" height="28" fill="#000"/>
<rect x="761" y="244" width="5" height="13" fill="#000"/><rect x="762" y="245" width="3" height="11" fill="#fff"/>
<rect x="771" y="236" width="1" height="20" fill="#000"/>
<rect x="769" y="239" width="5" height="5" fill="#000"/><rect x="770" y="240" width="3" height="3" fill="#fff"/>
<rect x="779" y="240" width="1" height="3" fill="#000"/>
<rect x="777" y="240" width="5" height="3" fill="#000"/><rect x="778" y="241" width="3" height="1" fill="#fff"/>
<rect x="787" y="211" width="1" height="31" fill="#000"/>
<rect x="785" y="213" width="5" height="28" fill="#000"/><rect x="786" y="214" width="3" height="26" fill="#fff"/>
<rect x="795" y="186" width="1" height="39" fill="#000"/>
<rect x="793" y="213" width="5" height="2" fill="#000"/>
<rect x="803" y="193" width="1" height="27" fill="#000"/>
<rect x="801" y="199" width="5" height="16" fill="#000"/><rect x="802" y="200" width="3" height="14" fill="#fff"/>
<rect x="811" y="196" width="1" height="17" fill="#000"/>
<rect x="809" y="198" width="5" height="2" fill="#000"/>
<rect x="819" y="197" width="1" height="23" fill="#000"/>
<rect x="817" y="199" width="5" height="7" fill="#000"/>
<rect x="827" y="200" width="1" height="2" fill="#000"/>
<rect x="825" y="200" width="5" height="3" fill="#000"/><rect x="826" y="201" width="3" height="1" fill="#fff"/>
<rect x="835" y="196" width="1" height="15" fill="#000"/>
<rect x="833" y="200" width="5" height="3" fill="#000"/>
<rect x="843" y="198" width="1" height="23" fill="#000"/>
<rect x="841" y="203" width="5" height="8" fill="#000"/>
<rect x="851" y="201" width="1" height="22" fill="#000"/>
<rect x="849" y="210" width="5" height="13" fill="#000"/>
<rect x="859" y="210" width="1" height="25" fill="#000"/>
<rect x="857" y="210" width="5" height="13" fill="#000"/><rect x="858" y="211" width="3" height="11" fill="#fff"/>
<rect x="867" y="198" width="1" height="32" fill="#000"/>
<rect x="865" y="201" width="5" height="8" fill="#000"/><rect x="866" y="202" width="3" height="6" fill="#fff"/>
<rect x="875" y="195" width="1" height="5" fill="#000"/>
<rect x="873" y="196" width="5" height="3" fill="#000"/>
<rect x="883" y="169" width="1" height="31" fill="#000"/>
<rect x="881" y="170" width="5" height="28" fill="#000"/><rect x="882" y="171" width="3" height="26" fill="#fff"/>
<rect x="891" y="156" width="1" height="33" fill="#000"/>
<rect x="889" y="170" width="5" height="8" fill="#000"/>
<rect x="899" y="166" width="1" height="19" fill="#000"/>
<rect x="897" y="169" width="5" height="8" fill="#000"/><rect x="898" y="170" width="3" height="6" fill="#fff"/>
<rect x="907" y="148" width="1" height="31" fill="#000"/>
<rect x="905" y="152" width="5" height="17" fill="#000"/><rect x="906" y="153" width="3" height="15" fill="#fff"/>
<rect x="915" y="139" width="1" height="21" fill="#000"/>
<rect x="913" y="147" width="5" height="6" fill="#000"/><rect x="914" y="148" width="3" height="4" fill="#fff"/>
<rect x="923" y="137" width="1" height="4" fill="#000"/>
<rect x="921" y="137" width="5" height="4" fill="#000"/><rect x="922" y="138" width="3" height="2" fill="#fff"/>
<rect x="931" y="134" width="1" height="35" fill="#000"/>
<rect x="929" y="137" width="5" height="24" fill="#000"/>
<rect x="939" y="141" width="1" height="32" fill="#000"/>
<rect x="937" y="141" width="5" height="21" fill="#000"/><rect x="938" y="142" width="3" height="19" fill="#fff"/>
<rect x="947" y="108" width="1" height="37" fill="#000"/>
<rect x="945" y="110" width="5" height="32" fill="#000"/><rect x="946" y="111" width="3" height="30" fill="#fff"/>
<rect x="955" y="106" width="1" height="81" fill="#000"/>
<rect x="953" y="111" width="5" height="70" fill="#000"/>
<rect x="963" y="148" width="1" height="69" fill="#000"/>
<rect x="961" y="179" width="5" height="6" fill="#000"/>
<rect x="971" y="180" width="1" height="10" fill="#000"/>
<rect x="969" y="187" width="5" height="2" fill="#000"/>
<rect x="979" y="165" width="1" height="29" fill="#000"/>
<rect x="977" y="167" width="5" height="19" fill="#000"/><rect x="978" y="168" width="3" height="17" fill="#fff"/>
<rect x="987" y="162" width="1" height="87" fill="#000"/>
<rect x="985" y="167" width="5" height="67" fill="#000"/>
<rect x="995" y="177" width="1" height="61" fill="#000"/>
<rect x="993" y="188" width="5" height="45" fill="#000"/><rect x="994" y="189" width="3" height="43" fill="#fff"/>
<rect x="1003" y="179" width="1" height="54" fill="#000"/>
<rect x="1001" y="189" width="5" height="30" fill="#000"/>
<rect x="1011" y="203" width="1" height="29" fill="#000"/>
<rect x="1009" y="218" width="5" height="2" fill="#000"/>
<rect x="1019" y="204" width="1" height="6" fill="#000"/>
<rect x="1017" y="204" width="5" height="3" fill="#000"/><rect x="1018" y="205" width="3" height="1" fill="#fff"/>
<rect x="1027" y="184" width="1" height="24" fill="#000"/>
<rect x="1025" y="190" width="5" height="14" fill="#000"/><rect x="1026" y="191" width="3" height="12" fill="#fff"/>
<rect x="1035" y="173" width="1" height="28" fill="#000"/>
<rect x="1033" y="190" width="5" height="10" fill="#000"/>
<rect x="1043" y="173" width="1" height="30" fill="#000"/>
<rect x="1041" y="195" width="5" height="5" fill="#000"/><rect x="1042" y="196" width="3" height="3" fill="#fff"/>
<rect x="1051" y="194" width="1" height="39" fill="#000"/>
<rect x="1049" y="195" width="5" height="10" fill="#000"/>
<rect x="1059" y="201" width="1" height="36" fill="#000"/>
<rect x="1057" y="206" width="5" height="13" fill="#000"/>
<rect x="1067" y="218" width="1" height="8" fill="#000"/>
<rect x="1065" y="222" width="5" height="3" fill="#000"/><rect x="1066" y="223" width="3" height="1" fill="#fff"/>
<rect x="1075" y="215" width="1" height="78" fill="#000"/>
<rect x="1073" y="221" width="5" height="34" fill="#000"/>
<rect x="1083" y="245" width="1" height="29" fill="#000"/>
<rect x="1081" y="245" width="5" height="10" fill="#000"/><rect x="1082" y="246" width="3" height="8" fill="#fff"/>
<rect x="1091" y="235" width="1" height="63" fill="#000"/>
<rect x="1089" y="245" width="5" height="48" fill="#000"/>
<rect x="1099" y="266" width="1" height="40" fill="#000"/>
<rect x="1097" y="275" width="5" height="18" fill="#000"/><rect x="1098" y="276" width="3" height="16" fill="#fff"/>
<rect x="1107" y="254" width="1" height="51" fill="#000"/>
<rect x="1105" y="260" width="5" height="16" fill="#000"/><rect x="1106" y="261" width="3" height="14" fill="#fff"/>
<rect x="1115" y="253" width="1" height="2" fill="#000"/>
<rect x="1113" y="253" width="5" height="2" fill="#000"/>
<rect x="1123" y="220" width="1" height="37" fill="#000"/>
<rect x="1121" y="222" width="5" height="33" fill="#000"/><rect x="1122" y="223" width="3" height="31" fill="#fff"/>
<rect x="1131" y="218" width="1" height="29" fill="#000"/>
<rect x="1129" y="223" width="5" height="9" fill="#000"/>
<rect x="1139" y="198" width="1" height="63" fill="#000"/>
<rect x="1137" y="208" width="5" height="25" fill="#000"/><rect x="1138" y="209" width="3" height="23" fill="#fff"/>
<rect x="1147" y="194" width="1" height="31" fill="#000"/>
<rect x="1145" y="207" width="5" height="7" fill="#000"/>
<rect x="1155" y="209" width="1" height="45" fill="#000"/>
<rect x="1153" y="214" width="5" height="9" fill="#000"/>
<rect x="1163" y="207" width="1" height="7" fill="#000"/>
<rect x="1161" y="208" width="5" height="4" fill="#000"/><rect x="1162" y="209" width="3" height="2" fill="#fff"/>
<rect x="1171" y="188" width="1" height="28" fill="#000"/>
<rect x="1169" y="191" width="5" height="17" fill="#000"/><rect x="1170" y="192" width="3" height="15" fill="#fff"/>
<rect x="1179" y="174" width="1" height="50" fill="#000"/>
<rect x="1177" y="191" width="5" height="25" fill="#000"/>
<rect x="1187" y="173" width="1" height="45" fill="#000"/>
<rect x="1185" y="174" width="5" height="43" fill="#000"/><rect x="1186" y="175" width="3" height="41" fill="#fff"/>
<rect x="1195" y="157" width="1" height="23" fill="#000"/>
<rect x="1193" y="159" width="5" height="15" fill="#000"/><rect x="1194" y="160" width="3" height="13" fill="#fff"/>
<rect x="1203" y="150" width="1" height="18" fill="#000"/>
<rect x="1201" y="153" width="5" height="6" fill="#000"/><rect x="1202" y="154" width="3" height="4" fill="#fff"/>
<rect x="1211" y="153" width="1" height="5" fill="#000"/>
<rect x="1209" y="155" width="5" height="2" fill="#000"/>
<rect x="1219" y="130" width="1" height="30" fill="#000"/>
<rect x="1217" y="134" width="5" height="22" fill="#000"/><rect x="1218" y="135" width="3" height="20" fill="#fff"/>
<rect x="1227" y="134" width="1" height="22" fill="#000"/>
<rect x="1225" y="134" width="5" height="13" fill="#000"/>
<rect x="1235" y="138" width="1" height="29" fill="#000"/>
<rect x="1233" y="146" width="5" height="13" fill="#000"/>
<rect x="1243" y="157" width="1" height="31" fill="#000"/>
<rect x="1241" y="159" width="5" height="2" fill="#000"/>
<rect x="1251" y="138" width="1" height="30" fill="#000"/>
<rect x="1249" y="159" width="5" height="3" fill="#000"/>
<rect x="1259" y="153" width="1" height="2" fill="#000"/>
<rect x="1257" y="154" width="5" height="2" fill="#000"/>
<rect x="1267" y="142" width="1" height="48" fill="#000"/>
<rect x="1265" y="154" width="5" height="21" fill="#000"/>
<rect x="1275" y="157" width="1" height="31" fill="#000"/>
<rect x="1273" y="171" width="5" height="3" fill="#000"/><rect x="1274" y="172" width="3" height="1" fill="#fff"/>
<rect x="1283" y="164" width="1" height="35" fill="#000"/>
<rect x="1281" y="171" width="5" height="21" fill="#000"/>
<rect x="1291" y="167" width="1" height="31" fill="#000"/>
<rect x="1289" y="170" width="5" height="21" fill="#000"/><rect x="1290" y="171" width="3" height="19" fill="#fff"/>
<rect x="1299" y="163" width="1" height="25" fill="#000"/>
<rect x="1297" y="170" width="5" height="8" fill="#000"/>
<rect x="1307" y="185" width="1" height="5" fill="#000"/>
<rect x="1305" y="185" width="5" height="5" fill="#000"/><rect x="1306" y="186" width="3" height="3" fill="#fff"/>
<rect x="1315" y="182" width="1" height="63" fill="#000"/>
<rect x="1313" y="184" width="5" height="40" fill="#000"/>
<rect x="1323" y="211" width="1" height="39" fill="#000"/>
<rect x="1321" y="223" width="5" height="23" fill="#000"/>
<rect x="1331" y="245" width="1" height="63" fill="#000"/>
<rect x="1329" y="246" width="5" height="49" fill="#000"/>
<rect x="1339" y="277" width="1" height="47" fill="#000"/>
<rect x="1337" y="294" width="5" height="13" fill="#000"/>
<rect x="1347" y="298" width="1" height="41" fill="#000"/>
<rect x="1345" y="303" width="5" height="3" fill="#000"/><rect x="1346" y="304" width="3" height="1" fill="#fff"/>
<rect x="1355" y="309" width="1" height="14" fill="#000"/>
<rect x="1353" y="309" width="5" height="8" fill="#000"/>
<rect x="1363" y="271" width="1" height="49" fill="#000"/>
<rect x="1361" y="271" width="5" height="44" fill="#000"/><rect x="1362" y="272" width="3" height="42" fill="#fff"/>
<rect x="1371" y="214" width="1" height="61" fill="#000"/>
<rect x="1369" y="222" width="5" height="50" fill="#000"/><rect x="1370" y="223" width="3" height="48" fill="#fff"/>
<rect x="1379" y="177" width="1" height="92" fill="#000"/>
<rect x="1377" y="212" width="5" height="9" fill="#000"/><rect x="1378" y="213" width="3" height="7" fill="#fff"/>
<rect x="1387" y="173" width="1" height="43" fill="#000"/>
<rect x="1385" y="173" width="5" height="40" fill="#000"/><rect x="1386" y="174" width="3" height="38" fill="#fff"/>
<rect x="1395" y="159" width="1" height="35" fill="#000"/>
<rect x="1393" y="173" width="5" height="2" fill="#000"/>
<rect x="1403" y="149" width="1" height="19" fill="#000"/>
<rect x="1401" y="155" width="5" height="8" fill="#000"/><rect x="1402" y="156" width="3" height="6" fill="#fff"/>
<rect x="1411" y="47" width="1" height="111" fill="#000"/>
<rect x="1409" y="113" width="5" height="42" fill="#000"/><rect x="1410" y="114" width="3" height="40" fill="#fff"/>
<rect x="1419" y="89" width="1" height="45" fill="#000"/>
<rect x="1417" y="98" width="5" height="16" fill="#000"/><rect x="1418" y="99" width="3" height="14" fill="#fff"/>
<rect x="1427" y="78" width="1" height="28" fill="#000"/>
<rect x="1425" y="96" width="5" height="2" fill="#000"/>
<rect x="1435" y="95" width="1" height="38" fill="#000"/>
<rect x="1433" y="99" width="5" height="15" fill="#000"/>
</g>
<polyline points="0.0,701.6 1.9,699.3 7.5,692.9 12.4,686.5 17.5,680.1 23.5,675.4 29.5,671.1 35.5,667.7 41.2,665.1 47.4,663.4 53.4,661.9 59.2,660.3 75.1,660.2 92.4,659.3 127.0,659.3 144.3,661.3 155.9,664.5 170.3,665.6 179.0,667.9 190.5,670.3 202.1,673.7 219.4,675.5 230.9,676.6 242.5,676.3 254.0,674.3 268.5,670.8 277.1,665.6 291.6,659.3 307.4,654.1 323.3,646.3 339.2,637.6 355.1,629.0 363.7,621.8 372.4,618.3 381.1,616.0 389.7,614.5 401.3,616.0 412.8,621.2 424.4,629.0 435.9,639.7 447.5,650.0 459.0,656.4 470.6,662.2 482.1,667.9 490.8,673.7 490.0,673.1 498.7,678.0 510.2,683.8 521.8,687.6 533.3,691.6 544.8,693.1 556.4,691.9 570.8,690.5 585.3,687.6 602.6,684.7 611.2,681.5 625.7,677.5 640.1,673.7 651.7,670.3 663.2,667.9 671.9,665.6 692.1,665.6 712.3,667.4 726.7,671.7 741.2,675.7 755.6,677.2 764.2,676.9 778.7,674.6 793.1,670.8 807.6,663.6 822.0,657.8 836.4,652.6 850.9,650.6 865.3,649.5 888.4,650.6 902.8,651.2 917.3,649.8 931.7,649.2 946.1,646.6 963.4,646.6 977.9,648.3 982.3,650.6 994.4,655.0 1006.0,660.7 1017.5,667.9 1029.1,674.3 1040.6,680.1 1052.2,684.7 1063.7,689.0 1075.3,692.5 1086.8,696.2 1098.4,700.6 1109.9,706.9 1121.5,710.4 1133.0,713.6 1144.5,715.3 1156.1,714.4 1167.6,712.1 1179.2,706.3 1190.7,702.0 1202.3,696.8 1213.8,690.5 1225.4,683.8 1236.9,678.9 1248.5,674.6 1260.0,671.4 1271.6,668.5 1283.1,669.4 1294.7,670.8 1306.2,673.7 1317.8,676.6 1329.3,682.4 1340.9,690.5 1352.4,699.1 1363.9,708.9 1375.5,717.0 1387.0,722.2 1398.6,722.5 1407.3,719.3 1415.9,712.7 1424.6,704.0 1435.3,694.5" fill="none" stroke="#ff0000" stroke-width="1" stroke-dasharray="3,3" shape-rendering="crispEdges"/>
<polyline points="3.5,819.0 11.5,821.6 19.5,827.4 27.5,833.2 35.5,830.6 43.5,830.3 51.5,825.4 59.5,826.5 67.5,821.6 75.5,821.3 83.5,814.7 91.5,823.9 99.5,829.7 107.5,835.2 115.5,830.6 123.5,827.1 131.5,833.5 139.5,826.5 147.5,821.9 155.5,820.2 163.5,825.4 171.5,837.2 179.5,840.4 187.5,833.5 195.5,835.2 203.5,831.1 211.5,818.4 219.5,825.4 227.5,821.6 235.5,821.3 243.5,822.5 251.5,820.5 259.5,818.2 267.5,813.5 275.5,803.4 283.5,811.2 291.5,809.2 299.5,815.3 307.5,814.4 315.5,807.2 323.5,800.0 331.5,802.8 339.5,792.7 347.5,790.4 355.5,788.4 363.5,792.7 371.5,809.5 379.5,836.3 387.5,833.5 395.5,838.4 403.5,825.1 411.5,823.3 419.5,829.4 427.5,826.5 435.5,834.9 443.5,836.6 451.5,826.5 459.5,828.3 467.5,839.5 475.5,835.5 483.5,844.1 491.5,845.6 499.5,833.5 507.5,832.3 515.5,833.5 523.5,830.3 531.5,832.3 539.5,828.3 547.5,821.3 555.5,830.6 563.5,827.1 571.5,833.5 579.5,827.4 587.5,825.9 595.5,825.9 603.5,813.5 611.5,813.5 619.5,817.3 627.5,820.5 635.5,818.4 643.5,818.4 651.5,814.4 659.5,813.2 667.5,823.3 675.5,830.3 683.5,830.3 691.5,824.5 699.5,831.4 707.5,828.3 715.5,828.3 723.5,831.4 731.5,831.4 739.5,823.3 747.5,818.4 755.5,808.0 763.5,804.0 771.5,802.3 779.5,803.4 787.5,795.1 795.5,796.5 803.5,792.5 811.5,792.5 819.5,797.4 827.5,795.3 835.5,798.2 843.5,804.0 851.5,814.4 859.5,809.2 867.5,805.4 875.5,803.4 883.5,793.3 891.5,799.4 899.5,796.2 907.5,791.6 915.5,790.4 923.5,787.3 931.5,806.0 939.5,799.4 947.5,791.6 955.5,828.3 963.5,830.3 971.5,830.3 979.5,823.3 987.5,846.4 995.5,831.4 1003.5,840.4 1011.5,840.4 1019.5,835.5 1027.5,831.1 1035.5,834.3 1043.5,832.3 1051.5,836.3 1059.5,841.0 1067.5,842.4 1075.5,853.4 1083.5,848.5 1091.5,861.5 1099.5,853.4 1107.5,847.3 1115.5,845.3 1123.5,833.5 1131.5,836.3 1139.5,828.3 1147.5,830.3 1155.5,834.3 1163.5,828.3 1171.5,823.3 1179.5,833.5 1187.5,819.3 1195.5,815.3 1203.5,813.2 1211.5,815.3 1219.5,809.2 1227.5,814.4 1235.5,820.2 1243.5,820.2 1251.5,821.6 1259.5,818.2 1267.5,829.4 1275.5,827.4 1283.5,837.5 1291.5,827.1 1299.5,831.4 1307.5,834.3 1315.5,849.0 1323.5,857.4 1331.5,868.4 1339.5,871.6 1347.5,869.2 1355.5,872.4 1363.5,852.5 1371.5,833.5 1379.5,830.9 1387.5,819.3 1395.5,819.3 1403.5,815.0 1411.5,805.7 1419.5,802.3 1427.5,802.3 1435.5,808.6" fill="none" stroke="#1e90ff" stroke-width="1" shape-rendering="crispEdges"/>
<polygon points="1443,20 1452.5,20 1447.7,25" fill="#c0c0c0"/>
<rect x="1372" y="105" width="127" height="6" fill="#00ff00"/>
<line x1="1350" y1="329" x2="1412" y2="58" stroke="#ff0000" stroke-width="3.5"/>
<polygon points="1413,51 1406,64 1420,62" fill="#ff0000"/>
<line x1="1413" y1="56" x2="1443" y2="130" stroke="#ff0000" stroke-width="3.5"/>
<polygon points="1444.8,134.5 1435.5,126 1439,127.5 1444.5,123.5" fill="#ff0000"/>
<polyline points="1436,126 1444.3,133.5 1444.3,123.5" fill="none" stroke="#ff0000" stroke-width="2.2"/>
<rect x="876.5" y="101.5" width="61" height="19" fill="#fff" stroke="#ff0000" stroke-width="1" shape-rendering="crispEdges"/>
<text x="907.0" y="116.8" font-size="17" fill="#ff0000" text-anchor="middle">29119.7</text>
<polyline points="937,109.5 947,109.5" fill="none" stroke="#ff0000" stroke-width="1" shape-rendering="crispEdges"/>
<rect x="1086.5" y="95.5" width="73" height="24" fill="#fff" stroke="#ff0000" stroke-width="1" shape-rendering="crispEdges"/>
<text x="1123.0" y="115.8" font-size="22.5" fill="#ff0000" text-anchor="middle" textLength="69" lengthAdjust="spacingAndGlyphs">29153.2</text>
<polyline points="1076,107.5 1086,107.5" fill="none" stroke="#ff0000" stroke-width="1" shape-rendering="crispEdges"/>
<rect x="1148.5" y="121.5" width="61" height="17" fill="#fff" stroke="#ff0000" stroke-width="1" shape-rendering="crispEdges"/>
<text x="1179.0" y="134.8" font-size="17" fill="#ff0000" text-anchor="middle">28848.6</text>
<polyline points="1209,129.5 1220,129.5" fill="none" stroke="#ff0000" stroke-width="1" shape-rendering="crispEdges"/>
<rect x="1276.5" y="330.5" width="62" height="17" fill="#fff" stroke="#ff0000" stroke-width="1" shape-rendering="crispEdges"/>
<text x="1307.5" y="343.8" font-size="17" fill="#ff0000" text-anchor="middle">25948.6</text>
<polyline points="1338,338.5 1347.5,338.5" fill="none" stroke="#ff0000" stroke-width="1" shape-rendering="crispEdges"/>
<text x="1477" y="129.8" font-size="20" fill="#00ff00" font-weight="300" letter-spacing="1.6" font-family="'Noto Sans CJK SC',sans-serif">多空转折点</text>
<rect x="1686" y="22" width="2" height="1" fill="#000" shape-rendering="crispEdges"/>
<text x="1691" y="25.7" font-size="9" fill="#000" stroke="#000" stroke-width="0.22">30336.5</text>
<rect x="1686" y="55" width="2" height="1" fill="#000" shape-rendering="crispEdges"/>
<text x="1691" y="58.7" font-size="9" fill="#000" stroke="#000" stroke-width="0.22">29877.5</text>
<rect x="1686" y="88" width="2" height="1" fill="#000" shape-rendering="crispEdges"/>
<text x="1691" y="91.7" font-size="9" fill="#000" stroke="#000" stroke-width="0.22">29418.5</text>
<rect x="1686" y="121" width="2" height="1" fill="#000" shape-rendering="crispEdges"/>
<text x="1691" y="124.7" font-size="9" fill="#000" stroke="#000" stroke-width="0.22">28959.5</text>
<rect x="1686" y="154" width="2" height="1" fill="#000" shape-rendering="crispEdges"/>
<text x="1691" y="157.7" font-size="9" fill="#000" stroke="#000" stroke-width="0.22">28500.5</text>
<rect x="1686" y="187" width="2" height="1" fill="#000" shape-rendering="crispEdges"/>
<text x="1691" y="190.7" font-size="9" fill="#000" stroke="#000" stroke-width="0.22">28041.5</text>
<rect x="1686" y="220" width="2" height="1" fill="#000" shape-rendering="crispEdges"/>
<text x="1691" y="223.7" font-size="9" fill="#000" stroke="#000" stroke-width="0.22">27596.0</text>
<rect x="1686" y="253" width="2" height="1" fill="#000" shape-rendering="crispEdges"/>
<text x="1691" y="256.7" font-size="9" fill="#000" stroke="#000" stroke-width="0.22">27137.0</text>
<rect x="1686" y="286" width="2" height="1" fill="#000" shape-rendering="crispEdges"/>
<text x="1691" y="289.7" font-size="9" fill="#000" stroke="#000" stroke-width="0.22">26678.0</text>
<rect x="1686" y="319" width="2" height="1" fill="#000" shape-rendering="crispEdges"/>
<text x="1691" y="322.7" font-size="9" fill="#000" stroke="#000" stroke-width="0.22">26219.0</text>
<rect x="1686" y="352" width="2" height="1" fill="#000" shape-rendering="crispEdges"/>
<text x="1691" y="355.7" font-size="9" fill="#000" stroke="#000" stroke-width="0.22">25760.0</text>
<rect x="1686" y="385" width="2" height="1" fill="#000" shape-rendering="crispEdges"/>
<text x="1691" y="388.7" font-size="9" fill="#000" stroke="#000" stroke-width="0.22">25301.0</text>
<rect x="1686" y="418" width="2" height="1" fill="#000" shape-rendering="crispEdges"/>
<text x="1691" y="421.7" font-size="9" fill="#000" stroke="#000" stroke-width="0.22">24842.0</text>
<rect x="1686" y="451" width="2" height="1" fill="#000" shape-rendering="crispEdges"/>
<text x="1691" y="454.7" font-size="9" fill="#000" stroke="#000" stroke-width="0.22">24383.0</text>
<rect x="1686" y="484" width="2" height="1" fill="#000" shape-rendering="crispEdges"/>
<text x="1691" y="487.7" font-size="9" fill="#000" stroke="#000" stroke-width="0.22">23924.0</text>
<rect x="1686" y="517" width="2" height="1" fill="#000" shape-rendering="crispEdges"/>
<text x="1691" y="520.7" font-size="9" fill="#000" stroke="#000" stroke-width="0.22">23465.0</text>
<rect x="1686" y="550" width="2" height="1" fill="#000" shape-rendering="crispEdges"/>
<text x="1691" y="553.7" font-size="9" fill="#000" stroke="#000" stroke-width="0.22">23006.0</text>
<rect x="1686" y="583" width="2" height="1" fill="#000" shape-rendering="crispEdges"/>
<text x="1691" y="586.7" font-size="9" fill="#000" stroke="#000" stroke-width="0.22">22560.5</text>
<rect x="1687" y="58" width="41" height="11" fill="#ff0000" shape-rendering="crispEdges"/>
<text x="1691" y="67.2" font-size="9" fill="#fff" stroke="#fff" stroke-width="0.22">29748.7</text>
<rect x="1687" y="77" width="41" height="11" fill="#ff0000" shape-rendering="crispEdges"/>
<text x="1691" y="86.2" font-size="9" fill="#fff" stroke="#fff" stroke-width="0.22">29485.6</text>
<rect x="1687" y="109" width="41" height="11" fill="#000" shape-rendering="crispEdges"/>
<text x="1691" y="118.2" font-size="9" fill="#fff" stroke="#fff" stroke-width="0.22">29056.0</text>
<rect x="1687" y="101" width="41" height="11" fill="#32cd32" shape-rendering="crispEdges"/>
<text x="1691" y="110.2" font-size="9" fill="#fff" stroke="#fff" stroke-width="0.22">29153.2</text>
<rect x="1687" y="123" width="41" height="11" fill="#0000ff" shape-rendering="crispEdges"/>
<text x="1691" y="132.2" font-size="9" fill="#fff" stroke="#fff" stroke-width="0.22">28848.6</text>
<rect x="1687" y="147" width="41" height="11" fill="#0000ff" shape-rendering="crispEdges"/>
<text x="1691" y="156.2" font-size="9" fill="#fff" stroke="#fff" stroke-width="0.22">28516.2</text>
<rect x="1680.5" y="62.5" width="4" height="4" fill="#fff" stroke="#ff0000" stroke-width="1" shape-rendering="crispEdges"/>
<rect x="1680.5" y="81.5" width="4" height="4" fill="#fff" stroke="#ff0000" stroke-width="1" shape-rendering="crispEdges"/>
<text x="1688.5" y="598.3" font-size="9" fill="#000" stroke="#000" stroke-width="0.22">929.45</text>
<text x="1688.5" y="697.5" font-size="9" fill="#000" stroke="#000" stroke-width="0.22">0.00</text>
<text x="1688.5" y="740.5" font-size="9" fill="#000" stroke="#000" stroke-width="0.22">-436.65</text>
<text x="1688.5" y="756.8" font-size="9" fill="#000" stroke="#000" stroke-width="0.22">100</text>
<text x="1688.5" y="785.6" font-size="9" fill="#000" stroke="#000" stroke-width="0.22">80</text>
<text x="1688.5" y="836.6" font-size="9" fill="#000" stroke="#000" stroke-width="0.22">50</text>
<text x="1688.5" y="897.6" font-size="9" fill="#000" stroke="#000" stroke-width="0.22">15</text>
<text x="1688.5" y="916.6" font-size="9" fill="#000" stroke="#000" stroke-width="0.22">0</text>
<rect x="1686" y="694" width="1" height="1" fill="#000" shape-rendering="crispEdges"/>
<rect x="-5" y="921" width="1" height="3" fill="#000" shape-rendering="crispEdges"/>
<text x="-6.2" y="932.8" font-size="9.45" fill="#000" stroke="#000" stroke-width="0.22">16 Apr 2020</text>
<rect x="59" y="921" width="1" height="3" fill="#000" shape-rendering="crispEdges"/>
<text x="57.8" y="932.8" font-size="9.45" fill="#000" stroke="#000" stroke-width="0.22">26 Apr 2020</text>
<rect x="123" y="921" width="1" height="3" fill="#000" shape-rendering="crispEdges"/>
<text x="121.8" y="932.8" font-size="9.45" fill="#000" stroke="#000" stroke-width="0.22">5 May 2020</text>
<rect x="187" y="921" width="1" height="3" fill="#000" shape-rendering="crispEdges"/>
<text x="185.8" y="932.8" font-size="9.45" fill="#000" stroke="#000" stroke-width="0.22">14 May 2020</text>
<rect x="251" y="921" width="1" height="3" fill="#000" shape-rendering="crispEdges"/>
<text x="249.8" y="932.8" font-size="9.45" fill="#000" stroke="#000" stroke-width="0.22">24 May 2020</text>
<rect x="315" y="921" width="1" height="3" fill="#000" shape-rendering="crispEdges"/>
<text x="313.8" y="932.8" font-size="9.45" fill="#000" stroke="#000" stroke-width="0.22">2 Jun 2020</text>
<rect x="379" y="921" width="1" height="3" fill="#000" shape-rendering="crispEdges"/>
<text x="377.8" y="932.8" font-size="9.45" fill="#000" stroke="#000" stroke-width="0.22">11 Jun 2020</text>
<rect x="443" y="921" width="1" height="3" fill="#000" shape-rendering="crispEdges"/>
<text x="441.8" y="932.8" font-size="9.45" fill="#000" stroke="#000" stroke-width="0.22">21 Jun 2020</text>
<rect x="507" y="921" width="1" height="3" fill="#000" shape-rendering="crispEdges"/>
<text x="505.8" y="932.8" font-size="9.45" fill="#000" stroke="#000" stroke-width="0.22">30 Jun 2020</text>
<rect x="571" y="921" width="1" height="3" fill="#000" shape-rendering="crispEdges"/>
<text x="569.8" y="932.8" font-size="9.45" fill="#000" stroke="#000" stroke-width="0.22">9 Jul 2020</text>
<rect x="635" y="921" width="1" height="3" fill="#000" shape-rendering="crispEdges"/>
<text x="633.8" y="932.8" font-size="9.45" fill="#000" stroke="#000" stroke-width="0.22">19 Jul 2020</text>
<rect x="699" y="921" width="1" height="3" fill="#000" shape-rendering="crispEdges"/>
<text x="697.8" y="932.8" font-size="9.45" fill="#000" stroke="#000" stroke-width="0.22">28 Jul 2020</text>
<rect x="763" y="921" width="1" height="3" fill="#000" shape-rendering="crispEdges"/>
<text x="761.8" y="932.8" font-size="9.45" fill="#000" stroke="#000" stroke-width="0.22">6 Aug 2020</text>
<rect x="827" y="921" width="1" height="3" fill="#000" shape-rendering="crispEdges"/>
<text x="825.8" y="932.8" font-size="9.45" fill="#000" stroke="#000" stroke-width="0.22">16 Aug 2020</text>
<rect x="891" y="921" width="1" height="3" fill="#000" shape-rendering="crispEdges"/>
<text x="889.8" y="932.8" font-size="9.45" fill="#000" stroke="#000" stroke-width="0.22">25 Aug 2020</text>
<rect x="955" y="921" width="1" height="3" fill="#000" shape-rendering="crispEdges"/>
<text x="953.8" y="932.8" font-size="9.45" fill="#000" stroke="#000" stroke-width="0.22">3 Sep 2020</text>
<rect x="1019" y="921" width="1" height="3" fill="#000" shape-rendering="crispEdges"/>
<text x="1017.8" y="932.8" font-size="9.45" fill="#000" stroke="#000" stroke-width="0.22">13 Sep 2020</text>
<rect x="1083" y="921" width="1" height="3" fill="#000" shape-rendering="crispEdges"/>
<text x="1081.8" y="932.8" font-size="9.45" fill="#000" stroke="#000" stroke-width="0.22">22 Sep 2020</text>
<rect x="1147" y="921" width="1" height="3" fill="#000" shape-rendering="crispEdges"/>
<text x="1145.8" y="932.8" font-size="9.45" fill="#000" stroke="#000" stroke-width="0.22">1 Oct 2020</text>
<rect x="1211" y="921" width="1" height="3" fill="#000" shape-rendering="crispEdges"/>
<text x="1209.8" y="932.8" font-size="9.45" fill="#000" stroke="#000" stroke-width="0.22">11 Oct 2020</text>
<rect x="1275" y="921" width="1" height="3" fill="#000" shape-rendering="crispEdges"/>
<text x="1273.8" y="932.8" font-size="9.45" fill="#000" stroke="#000" stroke-width="0.22">20 Oct 2020</text>
<rect x="1339" y="921" width="1" height="3" fill="#000" shape-rendering="crispEdges"/>
<text x="1337.8" y="932.8" font-size="9.45" fill="#000" stroke="#000" stroke-width="0.22">29 Oct 2020</text>
<rect x="1403" y="921" width="1" height="3" fill="#000" shape-rendering="crispEdges"/>
<text x="1401.8" y="932.8" font-size="9.45" fill="#000" stroke="#000" stroke-width="0.22">8 Nov 2020</text>
<polygon points="-2,30 5,30 1.5,26" fill="#000"/>
<text x="10.3" y="31" font-size="9.5" fill="#000" stroke="#000" stroke-width="0.2" textLength="196" lengthAdjust="spacingAndGlyphs" xml:space="preserve">DJ30-,Daily  29284.0 29331.0 28813.0 29056.0</text>
<text x="0.5" y="601" font-size="9.5" fill="#000" stroke="#000" stroke-width="0.2" textLength="121" lengthAdjust="spacingAndGlyphs">MACD(12,26,9) 325.14 13.22</text>
<text x="0.3" y="759" font-size="9.5" fill="#000" stroke="#000" stroke-width="0.2" textLength="66.5" lengthAdjust="spacingAndGlyphs">RSI(14) 63.9648</text>
</svg>
<div id="trade">
<div style="position:absolute;left:0;top:0;width:50px;height:24px;box-sizing:border-box;border-top:1px solid #b80000;border-right:1px solid #b80000;background:linear-gradient(#fa5252,#e23a3a);"></div>
<div style="position:absolute;left:165px;top:0;width:52px;height:24px;box-sizing:border-box;border-top:1px solid #b80000;border-left:1px solid #b80000;border-right:1px solid #b80000;background:linear-gradient(#fa5252,#e23a3a);"></div>
<div style="position:absolute;left:0;top:24px;width:107px;height:40px;box-sizing:border-box;border:1px solid #b40000;border-left:0;border-bottom-color:#a80000;background:linear-gradient(#e03232,#b00000);"></div>
<div style="position:absolute;left:109px;top:24px;width:108px;height:40px;box-sizing:border-box;border:1px solid #b40000;border-bottom-color:#a80000;background:linear-gradient(#e03232,#b00000);"></div>
<div style="position:absolute;left:0;top:23px;width:49px;height:2px;background:#e23a3a;"></div>
<div style="position:absolute;left:166px;top:23px;width:50px;height:2px;background:#e23a3a;"></div>
<div style="position:absolute;left:0;top:23px;width:46px;height:1px;background:#980000;"></div>
<div style="position:absolute;left:0;top:24px;width:46px;height:1px;background:#ff8484;"></div>
<div style="position:absolute;left:169px;top:23px;width:44px;height:1px;background:#980000;"></div>
<div style="position:absolute;left:169px;top:24px;width:44px;height:1px;background:#ff8484;"></div>
<div style="position:absolute;left:52px;top:0;width:111px;height:22px;box-sizing:border-box;border:1px solid #a9adb8;background:#fff;"></div>
<div style="position:absolute;left:73px;top:0;width:1px;height:22px;background:#a9adb8;"></div>
<div style="position:absolute;left:141px;top:0;width:1px;height:22px;background:#a9adb8;"></div>
<div style="position:absolute;left:54px;top:2px;width:18px;height:18px;background:linear-gradient(#f4f4f4 0,#eaeaea 33%,#d8d8d8 34%,#d2d2d2 100%);"></div>
<div style="position:absolute;left:143px;top:2px;width:18px;height:18px;background:linear-gradient(#f4f4f4 0,#eaeaea 33%,#d8d8d8 34%,#d2d2d2 100%);"></div>
<div style="position:absolute;left:60px;top:9px;width:0;height:0;border-left:3px solid transparent;border-right:3px solid transparent;border-top:3.5px solid #4a62c0;"></div>
<div style="position:absolute;left:149px;top:8px;width:0;height:0;border-left:3px solid transparent;border-right:3px solid transparent;border-bottom:3.5px solid #4a62c0;"></div>
<div class="t" style="left:10px;top:5.5px;font-size:11.8px;letter-spacing:-0.7px;color:#fff;">SELL</div>
<div class="t" style="left:178.5px;top:5.5px;font-size:11.8px;letter-spacing:-0.5px;color:#fff;">BUY</div>
<div class="t" style="left:114.5px;top:5px;font-size:12.5px;color:#000;">1.00</div>
<div class="t" style="left:14px;top:45px;font-size:12px;font-weight:bold;color:#fff;">29054</div>
<div class="t" style="left:124px;top:45px;font-size:12px;font-weight:bold;color:#fff;">29068</div>
<div class="t" style="left:50.5px;top:25.5px;font-size:34.5px;color:#fff;transform:scaleX(0.9);transform-origin:0 0;"><b>.</b>5</div>
<div class="t" style="left:161.5px;top:25.5px;font-size:34.5px;color:#fff;transform:scaleX(0.9);transform-origin:0 0;"><b>.</b>5</div>
</div>

<div id="tbx"></div>
</body></html>
